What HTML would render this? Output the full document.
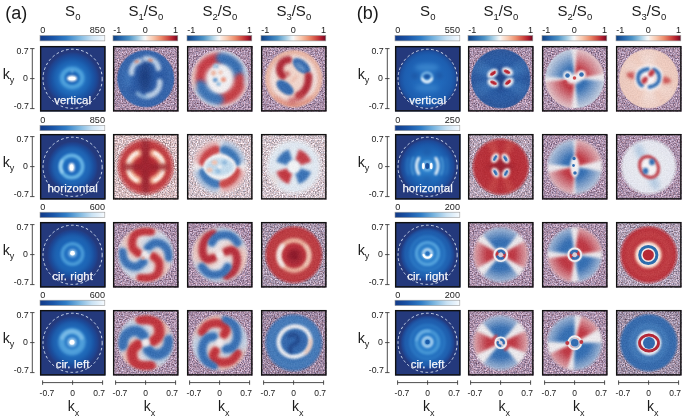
<!DOCTYPE html><html><head><meta charset="utf-8"><style>html,body{margin:0;padding:0;background:#fff;width:685px;height:420px;overflow:hidden}svg{display:block;will-change:transform}</style></head><body>
<svg xmlns="http://www.w3.org/2000/svg" width="685" height="420" viewBox="0 0 685 420"><defs><linearGradient id="gRB" x1="0" y1="0" x2="1" y2="0"><stop offset="0.000" stop-color="#0e3f80"/><stop offset="0.120" stop-color="#2566ad"/><stop offset="0.250" stop-color="#4b92c6"/><stop offset="0.380" stop-color="#a2cce4"/><stop offset="0.470" stop-color="#e9f1f6"/><stop offset="0.500" stop-color="#f7f7f7"/><stop offset="0.530" stop-color="#fbe9df"/><stop offset="0.620" stop-color="#f8c7ad"/><stop offset="0.740" stop-color="#ec8c6c"/><stop offset="0.850" stop-color="#cf4a42"/><stop offset="0.930" stop-color="#b01b2e"/><stop offset="1.000" stop-color="#6a0a22"/></linearGradient><linearGradient id="gBL" x1="0" y1="0" x2="1" y2="0"><stop offset="0.000" stop-color="#123a88"/><stop offset="0.200" stop-color="#1a55a8"/><stop offset="0.400" stop-color="#2f7cc6"/><stop offset="0.600" stop-color="#78b4df"/><stop offset="0.800" stop-color="#c9e2f4"/><stop offset="1.000" stop-color="#f7fbff"/></linearGradient><radialGradient id="rg1" gradientUnits="userSpaceOnUse" cx="32.75" cy="32.75" r="27.00"><stop offset="0.000" stop-color="#2878c6" stop-opacity="1.00"/><stop offset="0.350" stop-color="#2070c0" stop-opacity="1.00"/><stop offset="0.600" stop-color="#1a60b2" stop-opacity="1.00"/><stop offset="0.780" stop-color="#1a52a2" stop-opacity="1.00"/><stop offset="0.900" stop-color="#1e4592" stop-opacity="1.00"/><stop offset="1.000" stop-color="#24397c" stop-opacity="1.00"/></radialGradient><filter id="n0" x="0" y="0" width="100%" height="100%" color-interpolation-filters="sRGB"><feTurbulence type="fractalNoise" baseFrequency="0.75" numOctaves="2" seed="10"/><feColorMatrix type="matrix" values="0.850 0.126 0.000 0.000 0.179 0.850 -0.036 0.000 0.000 0.158 0.850 -0.126 0.000 0.000 0.305 0.000 0.000 0.000 0.000 1.000"/></filter><clipPath id="dp001"><circle cx="32.75" cy="32.75" r="29.00"/></clipPath><radialGradient id="rg3" gradientUnits="userSpaceOnUse" cx="32.75" cy="32.75" r="30.50"><stop offset="0.000" stop-color="#fff" stop-opacity="0.07"/><stop offset="0.885" stop-color="#fff" stop-opacity="0.14"/><stop offset="1.000" stop-color="#fff" stop-opacity="1.00"/></radialGradient><mask id="m2"><rect width="66" height="66" fill="url(#rg3)"/></mask><filter id="n1" x="0" y="0" width="100%" height="100%" color-interpolation-filters="sRGB"><feTurbulence type="fractalNoise" baseFrequency="0.75" numOctaves="2" seed="17"/><feColorMatrix type="matrix" values="0.850 0.126 0.000 0.000 0.179 0.850 -0.036 0.000 0.000 0.158 0.850 -0.126 0.000 0.000 0.305 0.000 0.000 0.000 0.000 1.000"/></filter><clipPath id="dp002"><circle cx="32.75" cy="32.75" r="29.50"/></clipPath><radialGradient id="rg5" gradientUnits="userSpaceOnUse" cx="32.75" cy="32.75" r="30.50"><stop offset="0.000" stop-color="#fff" stop-opacity="0.07"/><stop offset="0.885" stop-color="#fff" stop-opacity="0.14"/><stop offset="1.000" stop-color="#fff" stop-opacity="1.00"/></radialGradient><mask id="m4"><rect width="66" height="66" fill="url(#rg5)"/></mask><filter id="n2" x="0" y="0" width="100%" height="100%" color-interpolation-filters="sRGB"><feTurbulence type="fractalNoise" baseFrequency="0.75" numOctaves="2" seed="24"/><feColorMatrix type="matrix" values="0.850 0.126 0.000 0.000 0.179 0.850 -0.036 0.000 0.000 0.158 0.850 -0.126 0.000 0.000 0.305 0.000 0.000 0.000 0.000 1.000"/></filter><clipPath id="dp003"><circle cx="32.75" cy="32.75" r="29.50"/></clipPath><radialGradient id="rg7" gradientUnits="userSpaceOnUse" cx="32.75" cy="32.75" r="30.50"><stop offset="0.000" stop-color="#fff" stop-opacity="0.07"/><stop offset="0.885" stop-color="#fff" stop-opacity="0.14"/><stop offset="1.000" stop-color="#fff" stop-opacity="1.00"/></radialGradient><mask id="m6"><rect width="66" height="66" fill="url(#rg7)"/></mask><radialGradient id="rg8" gradientUnits="userSpaceOnUse" cx="32.75" cy="32.75" r="25.50"><stop offset="0.000" stop-color="#2878c6" stop-opacity="1.00"/><stop offset="0.350" stop-color="#2070c0" stop-opacity="1.00"/><stop offset="0.600" stop-color="#1a60b2" stop-opacity="1.00"/><stop offset="0.780" stop-color="#1a52a2" stop-opacity="1.00"/><stop offset="0.900" stop-color="#1e4592" stop-opacity="1.00"/><stop offset="1.000" stop-color="#24397c" stop-opacity="1.00"/></radialGradient><filter id="n3" x="0" y="0" width="100%" height="100%" color-interpolation-filters="sRGB"><feTurbulence type="fractalNoise" baseFrequency="0.75" numOctaves="2" seed="38"/><feColorMatrix type="matrix" values="0.850 0.126 0.000 0.000 0.343 0.850 -0.036 0.000 0.000 0.330 0.850 -0.126 0.000 0.000 0.391 0.000 0.000 0.000 0.000 1.000"/></filter><clipPath id="dp011"><circle cx="32.75" cy="32.75" r="29.00"/></clipPath><radialGradient id="rg10" gradientUnits="userSpaceOnUse" cx="32.75" cy="32.75" r="30.50"><stop offset="0.000" stop-color="#fff" stop-opacity="0.07"/><stop offset="0.803" stop-color="#fff" stop-opacity="0.14"/><stop offset="1.000" stop-color="#fff" stop-opacity="1.00"/></radialGradient><mask id="m9"><rect width="66" height="66" fill="url(#rg10)"/></mask><filter id="n4" x="0" y="0" width="100%" height="100%" color-interpolation-filters="sRGB"><feTurbulence type="fractalNoise" baseFrequency="0.75" numOctaves="2" seed="45"/><feColorMatrix type="matrix" values="0.850 0.126 0.000 0.000 0.328 0.850 -0.036 0.000 0.000 0.346 0.850 -0.126 0.000 0.000 0.422 0.000 0.000 0.000 0.000 1.000"/></filter><clipPath id="dp012"><circle cx="32.75" cy="32.75" r="29.00"/></clipPath><radialGradient id="rg12" gradientUnits="userSpaceOnUse" cx="32.75" cy="32.75" r="30.00"><stop offset="0.000" stop-color="#fff" stop-opacity="0.07"/><stop offset="0.800" stop-color="#fff" stop-opacity="0.14"/><stop offset="1.000" stop-color="#fff" stop-opacity="1.00"/></radialGradient><mask id="m11"><rect width="66" height="66" fill="url(#rg12)"/></mask><filter id="n5" x="0" y="0" width="100%" height="100%" color-interpolation-filters="sRGB"><feTurbulence type="fractalNoise" baseFrequency="0.75" numOctaves="2" seed="52"/><feColorMatrix type="matrix" values="0.850 0.126 0.000 0.000 0.328 0.850 -0.036 0.000 0.000 0.354 0.850 -0.126 0.000 0.000 0.430 0.000 0.000 0.000 0.000 1.000"/></filter><clipPath id="dp013"><circle cx="32.75" cy="32.75" r="29.00"/></clipPath><radialGradient id="rg14" gradientUnits="userSpaceOnUse" cx="32.75" cy="32.75" r="30.00"><stop offset="0.000" stop-color="#fff" stop-opacity="0.07"/><stop offset="0.783" stop-color="#fff" stop-opacity="0.14"/><stop offset="1.000" stop-color="#fff" stop-opacity="1.00"/></radialGradient><mask id="m13"><rect width="66" height="66" fill="url(#rg14)"/></mask><radialGradient id="rg15" gradientUnits="userSpaceOnUse" cx="32.75" cy="32.75" r="26.00"><stop offset="0.000" stop-color="#2878c6" stop-opacity="1.00"/><stop offset="0.350" stop-color="#2070c0" stop-opacity="1.00"/><stop offset="0.600" stop-color="#1a60b2" stop-opacity="1.00"/><stop offset="0.780" stop-color="#1a52a2" stop-opacity="1.00"/><stop offset="0.900" stop-color="#1e4592" stop-opacity="1.00"/><stop offset="1.000" stop-color="#24397c" stop-opacity="1.00"/></radialGradient><filter id="n6" x="0" y="0" width="100%" height="100%" color-interpolation-filters="sRGB"><feTurbulence type="fractalNoise" baseFrequency="0.75" numOctaves="2" seed="66"/><feColorMatrix type="matrix" values="0.850 0.126 0.000 0.000 0.179 0.850 -0.036 0.000 0.000 0.158 0.850 -0.126 0.000 0.000 0.305 0.000 0.000 0.000 0.000 1.000"/></filter><clipPath id="dp021"><circle cx="32.75" cy="32.75" r="29.00"/></clipPath><radialGradient id="rg17" gradientUnits="userSpaceOnUse" cx="32.75" cy="32.75" r="30.00"><stop offset="0.000" stop-color="#fff" stop-opacity="0.07"/><stop offset="0.850" stop-color="#fff" stop-opacity="0.14"/><stop offset="1.000" stop-color="#fff" stop-opacity="1.00"/></radialGradient><mask id="m16"><rect width="66" height="66" fill="url(#rg17)"/></mask><filter id="n7" x="0" y="0" width="100%" height="100%" color-interpolation-filters="sRGB"><feTurbulence type="fractalNoise" baseFrequency="0.75" numOctaves="2" seed="73"/><feColorMatrix type="matrix" values="0.850 0.126 0.000 0.000 0.179 0.850 -0.036 0.000 0.000 0.158 0.850 -0.126 0.000 0.000 0.305 0.000 0.000 0.000 0.000 1.000"/></filter><clipPath id="dp022"><circle cx="32.75" cy="32.75" r="29.00"/></clipPath><radialGradient id="rg19" gradientUnits="userSpaceOnUse" cx="32.75" cy="32.75" r="30.00"><stop offset="0.000" stop-color="#fff" stop-opacity="0.07"/><stop offset="0.850" stop-color="#fff" stop-opacity="0.14"/><stop offset="1.000" stop-color="#fff" stop-opacity="1.00"/></radialGradient><mask id="m18"><rect width="66" height="66" fill="url(#rg19)"/></mask><filter id="n8" x="0" y="0" width="100%" height="100%" color-interpolation-filters="sRGB"><feTurbulence type="fractalNoise" baseFrequency="0.75" numOctaves="2" seed="80"/><feColorMatrix type="matrix" values="0.850 0.126 0.000 0.000 0.171 0.850 -0.036 0.000 0.000 0.181 0.850 -0.126 0.000 0.000 0.313 0.000 0.000 0.000 0.000 1.000"/></filter><clipPath id="dp023"><circle cx="32.75" cy="32.75" r="29.50"/></clipPath><radialGradient id="rg21" gradientUnits="userSpaceOnUse" cx="32.75" cy="32.75" r="30.50"><stop offset="0.000" stop-color="#fff" stop-opacity="0.07"/><stop offset="0.852" stop-color="#fff" stop-opacity="0.14"/><stop offset="1.000" stop-color="#fff" stop-opacity="1.00"/></radialGradient><mask id="m20"><rect width="66" height="66" fill="url(#rg21)"/></mask><radialGradient id="rg22" gradientUnits="userSpaceOnUse" cx="32.75" cy="32.75" r="27.00"><stop offset="0.000" stop-color="#2878c6" stop-opacity="1.00"/><stop offset="0.350" stop-color="#2070c0" stop-opacity="1.00"/><stop offset="0.600" stop-color="#1a60b2" stop-opacity="1.00"/><stop offset="0.780" stop-color="#1a52a2" stop-opacity="1.00"/><stop offset="0.900" stop-color="#1e4592" stop-opacity="1.00"/><stop offset="1.000" stop-color="#24397c" stop-opacity="1.00"/></radialGradient><filter id="n9" x="0" y="0" width="100%" height="100%" color-interpolation-filters="sRGB"><feTurbulence type="fractalNoise" baseFrequency="0.75" numOctaves="2" seed="94"/><feColorMatrix type="matrix" values="0.850 0.126 0.000 0.000 0.179 0.850 -0.036 0.000 0.000 0.158 0.850 -0.126 0.000 0.000 0.305 0.000 0.000 0.000 0.000 1.000"/></filter><clipPath id="dp031"><circle cx="32.75" cy="32.75" r="29.00"/></clipPath><radialGradient id="rg24" gradientUnits="userSpaceOnUse" cx="32.75" cy="32.75" r="30.00"><stop offset="0.000" stop-color="#fff" stop-opacity="0.07"/><stop offset="0.850" stop-color="#fff" stop-opacity="0.14"/><stop offset="1.000" stop-color="#fff" stop-opacity="1.00"/></radialGradient><mask id="m23"><rect width="66" height="66" fill="url(#rg24)"/></mask><filter id="n10" x="0" y="0" width="100%" height="100%" color-interpolation-filters="sRGB"><feTurbulence type="fractalNoise" baseFrequency="0.75" numOctaves="2" seed="101"/><feColorMatrix type="matrix" values="0.850 0.126 0.000 0.000 0.179 0.850 -0.036 0.000 0.000 0.158 0.850 -0.126 0.000 0.000 0.305 0.000 0.000 0.000 0.000 1.000"/></filter><clipPath id="dp032"><circle cx="32.75" cy="32.75" r="29.00"/></clipPath><radialGradient id="rg26" gradientUnits="userSpaceOnUse" cx="32.75" cy="32.75" r="30.00"><stop offset="0.000" stop-color="#fff" stop-opacity="0.07"/><stop offset="0.850" stop-color="#fff" stop-opacity="0.14"/><stop offset="1.000" stop-color="#fff" stop-opacity="1.00"/></radialGradient><mask id="m25"><rect width="66" height="66" fill="url(#rg26)"/></mask><filter id="n11" x="0" y="0" width="100%" height="100%" color-interpolation-filters="sRGB"><feTurbulence type="fractalNoise" baseFrequency="0.75" numOctaves="2" seed="108"/><feColorMatrix type="matrix" values="0.850 0.126 0.000 0.000 0.132 0.850 -0.036 0.000 0.000 0.126 0.850 -0.126 0.000 0.000 0.273 0.000 0.000 0.000 0.000 1.000"/></filter><clipPath id="dp033"><circle cx="32.75" cy="32.75" r="29.50"/></clipPath><radialGradient id="rg28" gradientUnits="userSpaceOnUse" cx="32.75" cy="32.75" r="30.50"><stop offset="0.000" stop-color="#fff" stop-opacity="0.07"/><stop offset="0.852" stop-color="#fff" stop-opacity="0.14"/><stop offset="1.000" stop-color="#fff" stop-opacity="1.00"/></radialGradient><mask id="m27"><rect width="66" height="66" fill="url(#rg28)"/></mask><radialGradient id="rg29" gradientUnits="userSpaceOnUse" cx="32.75" cy="32.75" r="29.50"><stop offset="0.000" stop-color="#2570c0" stop-opacity="1.00"/><stop offset="0.500" stop-color="#2168ba" stop-opacity="1.00"/><stop offset="0.800" stop-color="#1d5eb0" stop-opacity="1.00"/><stop offset="0.920" stop-color="#1c52a2" stop-opacity="1.00"/><stop offset="0.970" stop-color="#1f4690" stop-opacity="1.00"/><stop offset="1.000" stop-color="#24397c" stop-opacity="1.00"/></radialGradient><filter id="n12" x="0" y="0" width="100%" height="100%" color-interpolation-filters="sRGB"><feTurbulence type="fractalNoise" baseFrequency="0.75" numOctaves="2" seed="122"/><feColorMatrix type="matrix" values="0.850 0.126 0.000 0.000 0.179 0.850 -0.036 0.000 0.000 0.158 0.850 -0.126 0.000 0.000 0.305 0.000 0.000 0.000 0.000 1.000"/></filter><clipPath id="dp101"><circle cx="32.75" cy="32.75" r="30.00"/></clipPath><radialGradient id="rg30" gradientUnits="userSpaceOnUse" cx="32.75" cy="32.75" r="30.00"><stop offset="0.000" stop-color="#3a80c4" stop-opacity="0.60"/><stop offset="0.200" stop-color="#3a80c4" stop-opacity="1.00"/><stop offset="0.400" stop-color="#3a80c4" stop-opacity="1.00"/><stop offset="1.000" stop-color="#3a80c4" stop-opacity="0.40"/></radialGradient><radialGradient id="rg31" gradientUnits="userSpaceOnUse" cx="32.75" cy="32.75" r="30.00"><stop offset="0.000" stop-color="#3a80c4" stop-opacity="0.60"/><stop offset="0.200" stop-color="#3a80c4" stop-opacity="1.00"/><stop offset="0.400" stop-color="#3a80c4" stop-opacity="1.00"/><stop offset="1.000" stop-color="#3a80c4" stop-opacity="0.40"/></radialGradient><radialGradient id="rg32" gradientUnits="userSpaceOnUse" cx="32.75" cy="32.75" r="30.00"><stop offset="0.000" stop-color="#3a80c4" stop-opacity="0.60"/><stop offset="0.200" stop-color="#3a80c4" stop-opacity="1.00"/><stop offset="0.400" stop-color="#3a80c4" stop-opacity="1.00"/><stop offset="1.000" stop-color="#3a80c4" stop-opacity="0.40"/></radialGradient><radialGradient id="rg33" gradientUnits="userSpaceOnUse" cx="32.75" cy="32.75" r="30.00"><stop offset="0.000" stop-color="#3a80c4" stop-opacity="0.60"/><stop offset="0.200" stop-color="#3a80c4" stop-opacity="1.00"/><stop offset="0.400" stop-color="#3a80c4" stop-opacity="1.00"/><stop offset="1.000" stop-color="#3a80c4" stop-opacity="0.40"/></radialGradient><radialGradient id="rg35" gradientUnits="userSpaceOnUse" cx="32.75" cy="32.75" r="31.00"><stop offset="0.000" stop-color="#fff" stop-opacity="0.07"/><stop offset="0.919" stop-color="#fff" stop-opacity="0.14"/><stop offset="1.000" stop-color="#fff" stop-opacity="1.00"/></radialGradient><mask id="m34"><rect width="66" height="66" fill="url(#rg35)"/></mask><filter id="n13" x="0" y="0" width="100%" height="100%" color-interpolation-filters="sRGB"><feTurbulence type="fractalNoise" baseFrequency="0.75" numOctaves="2" seed="129"/><feColorMatrix type="matrix" values="0.850 0.126 0.000 0.000 0.179 0.850 -0.036 0.000 0.000 0.158 0.850 -0.126 0.000 0.000 0.305 0.000 0.000 0.000 0.000 1.000"/></filter><clipPath id="dp102"><circle cx="32.75" cy="32.75" r="30.00"/></clipPath><radialGradient id="rg36" gradientUnits="userSpaceOnUse" cx="32.75" cy="32.75" r="30.00"><stop offset="0.000" stop-color="#2a6cb3" stop-opacity="0.60"/><stop offset="0.100" stop-color="#2a6cb3" stop-opacity="1.00"/><stop offset="0.367" stop-color="#2a6cb3" stop-opacity="1.00"/><stop offset="1.000" stop-color="#2a6cb3" stop-opacity="0.18"/></radialGradient><radialGradient id="rg37" gradientUnits="userSpaceOnUse" cx="32.75" cy="32.75" r="30.00"><stop offset="0.000" stop-color="#c0303a" stop-opacity="0.60"/><stop offset="0.100" stop-color="#c0303a" stop-opacity="1.00"/><stop offset="0.367" stop-color="#c0303a" stop-opacity="1.00"/><stop offset="1.000" stop-color="#c0303a" stop-opacity="0.18"/></radialGradient><radialGradient id="rg38" gradientUnits="userSpaceOnUse" cx="32.75" cy="32.75" r="30.00"><stop offset="0.000" stop-color="#2a6cb3" stop-opacity="0.60"/><stop offset="0.100" stop-color="#2a6cb3" stop-opacity="1.00"/><stop offset="0.367" stop-color="#2a6cb3" stop-opacity="1.00"/><stop offset="1.000" stop-color="#2a6cb3" stop-opacity="0.18"/></radialGradient><radialGradient id="rg39" gradientUnits="userSpaceOnUse" cx="32.75" cy="32.75" r="30.00"><stop offset="0.000" stop-color="#c0303a" stop-opacity="0.60"/><stop offset="0.100" stop-color="#c0303a" stop-opacity="1.00"/><stop offset="0.367" stop-color="#c0303a" stop-opacity="1.00"/><stop offset="1.000" stop-color="#c0303a" stop-opacity="0.18"/></radialGradient><radialGradient id="rg41" gradientUnits="userSpaceOnUse" cx="32.75" cy="32.75" r="31.00"><stop offset="0.000" stop-color="#fff" stop-opacity="0.07"/><stop offset="0.919" stop-color="#fff" stop-opacity="0.14"/><stop offset="1.000" stop-color="#fff" stop-opacity="1.00"/></radialGradient><mask id="m40"><rect width="66" height="66" fill="url(#rg41)"/></mask><filter id="n14" x="0" y="0" width="100%" height="100%" color-interpolation-filters="sRGB"><feTurbulence type="fractalNoise" baseFrequency="0.75" numOctaves="2" seed="136"/><feColorMatrix type="matrix" values="0.850 0.126 0.000 0.000 0.179 0.850 -0.036 0.000 0.000 0.158 0.850 -0.126 0.000 0.000 0.305 0.000 0.000 0.000 0.000 1.000"/></filter><clipPath id="dp103"><circle cx="32.75" cy="32.75" r="30.00"/></clipPath><radialGradient id="rg42" gradientUnits="userSpaceOnUse" cx="32.75" cy="32.75" r="30.00"><stop offset="0.000" stop-color="#fcf2ec" stop-opacity="0.60"/><stop offset="0.133" stop-color="#fcf2ec" stop-opacity="1.00"/><stop offset="0.467" stop-color="#fcf2ec" stop-opacity="1.00"/><stop offset="1.000" stop-color="#fcf2ec" stop-opacity="0.30"/></radialGradient><radialGradient id="rg43" gradientUnits="userSpaceOnUse" cx="32.75" cy="32.75" r="30.00"><stop offset="0.000" stop-color="#fcf2ec" stop-opacity="0.60"/><stop offset="0.133" stop-color="#fcf2ec" stop-opacity="1.00"/><stop offset="0.467" stop-color="#fcf2ec" stop-opacity="1.00"/><stop offset="1.000" stop-color="#fcf2ec" stop-opacity="0.30"/></radialGradient><radialGradient id="rg44" gradientUnits="userSpaceOnUse" cx="32.75" cy="32.75" r="30.00"><stop offset="0.000" stop-color="#fcf2ec" stop-opacity="0.60"/><stop offset="0.133" stop-color="#fcf2ec" stop-opacity="1.00"/><stop offset="0.467" stop-color="#fcf2ec" stop-opacity="1.00"/><stop offset="1.000" stop-color="#fcf2ec" stop-opacity="0.30"/></radialGradient><radialGradient id="rg45" gradientUnits="userSpaceOnUse" cx="32.75" cy="32.75" r="30.00"><stop offset="0.000" stop-color="#fcf2ec" stop-opacity="0.60"/><stop offset="0.133" stop-color="#fcf2ec" stop-opacity="1.00"/><stop offset="0.467" stop-color="#fcf2ec" stop-opacity="1.00"/><stop offset="1.000" stop-color="#fcf2ec" stop-opacity="0.30"/></radialGradient><radialGradient id="rg47" gradientUnits="userSpaceOnUse" cx="32.75" cy="32.75" r="31.00"><stop offset="0.000" stop-color="#fff" stop-opacity="0.07"/><stop offset="0.919" stop-color="#fff" stop-opacity="0.14"/><stop offset="1.000" stop-color="#fff" stop-opacity="1.00"/></radialGradient><mask id="m46"><rect width="66" height="66" fill="url(#rg47)"/></mask><radialGradient id="rg48" gradientUnits="userSpaceOnUse" cx="32.75" cy="32.75" r="28.00"><stop offset="0.000" stop-color="#3a90d8" stop-opacity="1.00"/><stop offset="0.300" stop-color="#2a7cc8" stop-opacity="1.00"/><stop offset="0.600" stop-color="#1f68b8" stop-opacity="1.00"/><stop offset="0.820" stop-color="#1b55a6" stop-opacity="1.00"/><stop offset="0.930" stop-color="#1e4896" stop-opacity="1.00"/><stop offset="1.000" stop-color="#24397c" stop-opacity="1.00"/></radialGradient><filter id="n15" x="0" y="0" width="100%" height="100%" color-interpolation-filters="sRGB"><feTurbulence type="fractalNoise" baseFrequency="0.75" numOctaves="2" seed="150"/><feColorMatrix type="matrix" values="0.850 0.126 0.000 0.000 0.218 0.850 -0.036 0.000 0.000 0.228 0.850 -0.126 0.000 0.000 0.344 0.000 0.000 0.000 0.000 1.000"/></filter><clipPath id="dp111"><circle cx="32.75" cy="32.75" r="29.00"/></clipPath><radialGradient id="rg49" gradientUnits="userSpaceOnUse" cx="32.75" cy="32.75" r="30.00"><stop offset="0.000" stop-color="#d4544a" stop-opacity="0.60"/><stop offset="0.200" stop-color="#d4544a" stop-opacity="1.00"/><stop offset="0.433" stop-color="#d4544a" stop-opacity="1.00"/><stop offset="1.000" stop-color="#d4544a" stop-opacity="0.50"/></radialGradient><radialGradient id="rg50" gradientUnits="userSpaceOnUse" cx="32.75" cy="32.75" r="30.00"><stop offset="0.000" stop-color="#d4544a" stop-opacity="0.60"/><stop offset="0.200" stop-color="#d4544a" stop-opacity="1.00"/><stop offset="0.433" stop-color="#d4544a" stop-opacity="1.00"/><stop offset="1.000" stop-color="#d4544a" stop-opacity="0.50"/></radialGradient><radialGradient id="rg51" gradientUnits="userSpaceOnUse" cx="32.75" cy="32.75" r="30.00"><stop offset="0.000" stop-color="#d4544a" stop-opacity="0.60"/><stop offset="0.200" stop-color="#d4544a" stop-opacity="1.00"/><stop offset="0.433" stop-color="#d4544a" stop-opacity="1.00"/><stop offset="1.000" stop-color="#d4544a" stop-opacity="0.50"/></radialGradient><radialGradient id="rg52" gradientUnits="userSpaceOnUse" cx="32.75" cy="32.75" r="30.00"><stop offset="0.000" stop-color="#d4544a" stop-opacity="0.60"/><stop offset="0.200" stop-color="#d4544a" stop-opacity="1.00"/><stop offset="0.433" stop-color="#d4544a" stop-opacity="1.00"/><stop offset="1.000" stop-color="#d4544a" stop-opacity="0.50"/></radialGradient><radialGradient id="rg54" gradientUnits="userSpaceOnUse" cx="32.75" cy="32.75" r="30.50"><stop offset="0.000" stop-color="#fff" stop-opacity="0.07"/><stop offset="0.836" stop-color="#fff" stop-opacity="0.14"/><stop offset="1.000" stop-color="#fff" stop-opacity="1.00"/></radialGradient><mask id="m53"><rect width="66" height="66" fill="url(#rg54)"/></mask><filter id="n16" x="0" y="0" width="100%" height="100%" color-interpolation-filters="sRGB"><feTurbulence type="fractalNoise" baseFrequency="0.75" numOctaves="2" seed="157"/><feColorMatrix type="matrix" values="0.850 0.126 0.000 0.000 0.179 0.850 -0.036 0.000 0.000 0.158 0.850 -0.126 0.000 0.000 0.305 0.000 0.000 0.000 0.000 1.000"/></filter><clipPath id="dp112"><circle cx="32.75" cy="32.75" r="28.50"/></clipPath><radialGradient id="rg55" gradientUnits="userSpaceOnUse" cx="32.75" cy="32.75" r="29.00"><stop offset="0.000" stop-color="#2a6cb3" stop-opacity="0.60"/><stop offset="0.103" stop-color="#2a6cb3" stop-opacity="1.00"/><stop offset="0.379" stop-color="#2a6cb3" stop-opacity="1.00"/><stop offset="1.000" stop-color="#2a6cb3" stop-opacity="0.20"/></radialGradient><radialGradient id="rg56" gradientUnits="userSpaceOnUse" cx="32.75" cy="32.75" r="29.00"><stop offset="0.000" stop-color="#c0303a" stop-opacity="0.60"/><stop offset="0.103" stop-color="#c0303a" stop-opacity="1.00"/><stop offset="0.379" stop-color="#c0303a" stop-opacity="1.00"/><stop offset="1.000" stop-color="#c0303a" stop-opacity="0.20"/></radialGradient><radialGradient id="rg57" gradientUnits="userSpaceOnUse" cx="32.75" cy="32.75" r="29.00"><stop offset="0.000" stop-color="#2a6cb3" stop-opacity="0.60"/><stop offset="0.103" stop-color="#2a6cb3" stop-opacity="1.00"/><stop offset="0.379" stop-color="#2a6cb3" stop-opacity="1.00"/><stop offset="1.000" stop-color="#2a6cb3" stop-opacity="0.20"/></radialGradient><radialGradient id="rg58" gradientUnits="userSpaceOnUse" cx="32.75" cy="32.75" r="29.00"><stop offset="0.000" stop-color="#c0303a" stop-opacity="0.60"/><stop offset="0.103" stop-color="#c0303a" stop-opacity="1.00"/><stop offset="0.379" stop-color="#c0303a" stop-opacity="1.00"/><stop offset="1.000" stop-color="#c0303a" stop-opacity="0.20"/></radialGradient><radialGradient id="rg60" gradientUnits="userSpaceOnUse" cx="32.75" cy="32.75" r="30.00"><stop offset="0.000" stop-color="#fff" stop-opacity="0.07"/><stop offset="0.833" stop-color="#fff" stop-opacity="0.14"/><stop offset="1.000" stop-color="#fff" stop-opacity="1.00"/></radialGradient><mask id="m59"><rect width="66" height="66" fill="url(#rg60)"/></mask><filter id="n17" x="0" y="0" width="100%" height="100%" color-interpolation-filters="sRGB"><feTurbulence type="fractalNoise" baseFrequency="0.75" numOctaves="2" seed="164"/><feColorMatrix type="matrix" values="0.850 0.126 0.000 0.000 0.179 0.850 -0.036 0.000 0.000 0.158 0.850 -0.126 0.000 0.000 0.305 0.000 0.000 0.000 0.000 1.000"/></filter><clipPath id="dp113"><circle cx="32.75" cy="32.75" r="28.50"/></clipPath><radialGradient id="rg62" gradientUnits="userSpaceOnUse" cx="32.75" cy="32.75" r="30.00"><stop offset="0.000" stop-color="#fff" stop-opacity="0.07"/><stop offset="0.833" stop-color="#fff" stop-opacity="0.14"/><stop offset="1.000" stop-color="#fff" stop-opacity="1.00"/></radialGradient><mask id="m61"><rect width="66" height="66" fill="url(#rg62)"/></mask><radialGradient id="rg63" gradientUnits="userSpaceOnUse" cx="32.75" cy="32.75" r="27.50"><stop offset="0.000" stop-color="#3a90d8" stop-opacity="1.00"/><stop offset="0.300" stop-color="#2a7cc8" stop-opacity="1.00"/><stop offset="0.600" stop-color="#1f68b8" stop-opacity="1.00"/><stop offset="0.820" stop-color="#1b55a6" stop-opacity="1.00"/><stop offset="0.930" stop-color="#1e4896" stop-opacity="1.00"/><stop offset="1.000" stop-color="#24397c" stop-opacity="1.00"/></radialGradient><filter id="n18" x="0" y="0" width="100%" height="100%" color-interpolation-filters="sRGB"><feTurbulence type="fractalNoise" baseFrequency="0.75" numOctaves="2" seed="178"/><feColorMatrix type="matrix" values="0.850 0.126 0.000 0.000 0.179 0.850 -0.036 0.000 0.000 0.158 0.850 -0.126 0.000 0.000 0.305 0.000 0.000 0.000 0.000 1.000"/></filter><clipPath id="dp121"><circle cx="32.75" cy="32.75" r="28.50"/></clipPath><radialGradient id="rg64" gradientUnits="userSpaceOnUse" cx="32.75" cy="32.75" r="29.00"><stop offset="0.000" stop-color="#2a6cb3" stop-opacity="0.60"/><stop offset="0.172" stop-color="#2a6cb3" stop-opacity="1.00"/><stop offset="0.517" stop-color="#2a6cb3" stop-opacity="1.00"/><stop offset="1.000" stop-color="#2a6cb3" stop-opacity="0.30"/></radialGradient><radialGradient id="rg65" gradientUnits="userSpaceOnUse" cx="32.75" cy="32.75" r="29.00"><stop offset="0.000" stop-color="#2a6cb3" stop-opacity="0.60"/><stop offset="0.172" stop-color="#2a6cb3" stop-opacity="1.00"/><stop offset="0.517" stop-color="#2a6cb3" stop-opacity="1.00"/><stop offset="1.000" stop-color="#2a6cb3" stop-opacity="0.30"/></radialGradient><radialGradient id="rg66" gradientUnits="userSpaceOnUse" cx="32.75" cy="32.75" r="29.00"><stop offset="0.000" stop-color="#c0303a" stop-opacity="0.60"/><stop offset="0.172" stop-color="#c0303a" stop-opacity="1.00"/><stop offset="0.483" stop-color="#c0303a" stop-opacity="1.00"/><stop offset="1.000" stop-color="#c0303a" stop-opacity="0.28"/></radialGradient><radialGradient id="rg67" gradientUnits="userSpaceOnUse" cx="32.75" cy="32.75" r="29.00"><stop offset="0.000" stop-color="#c0303a" stop-opacity="0.60"/><stop offset="0.172" stop-color="#c0303a" stop-opacity="1.00"/><stop offset="0.483" stop-color="#c0303a" stop-opacity="1.00"/><stop offset="1.000" stop-color="#c0303a" stop-opacity="0.28"/></radialGradient><radialGradient id="rg69" gradientUnits="userSpaceOnUse" cx="32.75" cy="32.75" r="30.00"><stop offset="0.000" stop-color="#fff" stop-opacity="0.07"/><stop offset="0.833" stop-color="#fff" stop-opacity="0.14"/><stop offset="1.000" stop-color="#fff" stop-opacity="1.00"/></radialGradient><mask id="m68"><rect width="66" height="66" fill="url(#rg69)"/></mask><filter id="n19" x="0" y="0" width="100%" height="100%" color-interpolation-filters="sRGB"><feTurbulence type="fractalNoise" baseFrequency="0.75" numOctaves="2" seed="185"/><feColorMatrix type="matrix" values="0.850 0.126 0.000 0.000 0.179 0.850 -0.036 0.000 0.000 0.158 0.850 -0.126 0.000 0.000 0.305 0.000 0.000 0.000 0.000 1.000"/></filter><clipPath id="dp122"><circle cx="32.75" cy="32.75" r="28.50"/></clipPath><radialGradient id="rg70" gradientUnits="userSpaceOnUse" cx="32.75" cy="32.75" r="29.00"><stop offset="0.000" stop-color="#2a6cb3" stop-opacity="0.60"/><stop offset="0.172" stop-color="#2a6cb3" stop-opacity="1.00"/><stop offset="0.517" stop-color="#2a6cb3" stop-opacity="1.00"/><stop offset="1.000" stop-color="#2a6cb3" stop-opacity="0.30"/></radialGradient><radialGradient id="rg71" gradientUnits="userSpaceOnUse" cx="32.75" cy="32.75" r="29.00"><stop offset="0.000" stop-color="#c0303a" stop-opacity="0.60"/><stop offset="0.172" stop-color="#c0303a" stop-opacity="1.00"/><stop offset="0.517" stop-color="#c0303a" stop-opacity="1.00"/><stop offset="1.000" stop-color="#c0303a" stop-opacity="0.30"/></radialGradient><radialGradient id="rg72" gradientUnits="userSpaceOnUse" cx="32.75" cy="32.75" r="29.00"><stop offset="0.000" stop-color="#c0303a" stop-opacity="0.60"/><stop offset="0.172" stop-color="#c0303a" stop-opacity="1.00"/><stop offset="0.517" stop-color="#c0303a" stop-opacity="1.00"/><stop offset="1.000" stop-color="#c0303a" stop-opacity="0.30"/></radialGradient><radialGradient id="rg73" gradientUnits="userSpaceOnUse" cx="32.75" cy="32.75" r="29.00"><stop offset="0.000" stop-color="#2a6cb3" stop-opacity="0.60"/><stop offset="0.172" stop-color="#2a6cb3" stop-opacity="1.00"/><stop offset="0.517" stop-color="#2a6cb3" stop-opacity="1.00"/><stop offset="1.000" stop-color="#2a6cb3" stop-opacity="0.30"/></radialGradient><radialGradient id="rg75" gradientUnits="userSpaceOnUse" cx="32.75" cy="32.75" r="30.00"><stop offset="0.000" stop-color="#fff" stop-opacity="0.07"/><stop offset="0.833" stop-color="#fff" stop-opacity="0.14"/><stop offset="1.000" stop-color="#fff" stop-opacity="1.00"/></radialGradient><mask id="m74"><rect width="66" height="66" fill="url(#rg75)"/></mask><filter id="n20" x="0" y="0" width="100%" height="100%" color-interpolation-filters="sRGB"><feTurbulence type="fractalNoise" baseFrequency="0.75" numOctaves="2" seed="192"/><feColorMatrix type="matrix" values="0.850 0.126 0.000 0.000 0.202 0.850 -0.036 0.000 0.000 0.220 0.850 -0.126 0.000 0.000 0.344 0.000 0.000 0.000 0.000 1.000"/></filter><clipPath id="dp123"><circle cx="32.75" cy="32.75" r="29.50"/></clipPath><radialGradient id="rg77" gradientUnits="userSpaceOnUse" cx="32.75" cy="32.75" r="30.50"><stop offset="0.000" stop-color="#fff" stop-opacity="0.07"/><stop offset="0.852" stop-color="#fff" stop-opacity="0.14"/><stop offset="1.000" stop-color="#fff" stop-opacity="1.00"/></radialGradient><mask id="m76"><rect width="66" height="66" fill="url(#rg77)"/></mask><radialGradient id="rg78" gradientUnits="userSpaceOnUse" cx="32.75" cy="32.75" r="27.50"><stop offset="0.000" stop-color="#3a90d8" stop-opacity="1.00"/><stop offset="0.300" stop-color="#2a7cc8" stop-opacity="1.00"/><stop offset="0.600" stop-color="#1f68b8" stop-opacity="1.00"/><stop offset="0.820" stop-color="#1b55a6" stop-opacity="1.00"/><stop offset="0.930" stop-color="#1e4896" stop-opacity="1.00"/><stop offset="1.000" stop-color="#24397c" stop-opacity="1.00"/></radialGradient><filter id="n21" x="0" y="0" width="100%" height="100%" color-interpolation-filters="sRGB"><feTurbulence type="fractalNoise" baseFrequency="0.75" numOctaves="2" seed="206"/><feColorMatrix type="matrix" values="0.850 0.126 0.000 0.000 0.179 0.850 -0.036 0.000 0.000 0.158 0.850 -0.126 0.000 0.000 0.305 0.000 0.000 0.000 0.000 1.000"/></filter><clipPath id="dp131"><circle cx="32.75" cy="32.75" r="28.50"/></clipPath><radialGradient id="rg79" gradientUnits="userSpaceOnUse" cx="32.75" cy="32.75" r="29.00"><stop offset="0.000" stop-color="#2a6cb3" stop-opacity="0.60"/><stop offset="0.172" stop-color="#2a6cb3" stop-opacity="1.00"/><stop offset="0.517" stop-color="#2a6cb3" stop-opacity="1.00"/><stop offset="1.000" stop-color="#2a6cb3" stop-opacity="0.30"/></radialGradient><radialGradient id="rg80" gradientUnits="userSpaceOnUse" cx="32.75" cy="32.75" r="29.00"><stop offset="0.000" stop-color="#2a6cb3" stop-opacity="0.60"/><stop offset="0.172" stop-color="#2a6cb3" stop-opacity="1.00"/><stop offset="0.517" stop-color="#2a6cb3" stop-opacity="1.00"/><stop offset="1.000" stop-color="#2a6cb3" stop-opacity="0.30"/></radialGradient><radialGradient id="rg81" gradientUnits="userSpaceOnUse" cx="32.75" cy="32.75" r="29.00"><stop offset="0.000" stop-color="#c0303a" stop-opacity="0.60"/><stop offset="0.207" stop-color="#c0303a" stop-opacity="1.00"/><stop offset="0.483" stop-color="#c0303a" stop-opacity="1.00"/><stop offset="1.000" stop-color="#c0303a" stop-opacity="0.28"/></radialGradient><radialGradient id="rg82" gradientUnits="userSpaceOnUse" cx="32.75" cy="32.75" r="29.00"><stop offset="0.000" stop-color="#c0303a" stop-opacity="0.60"/><stop offset="0.207" stop-color="#c0303a" stop-opacity="1.00"/><stop offset="0.483" stop-color="#c0303a" stop-opacity="1.00"/><stop offset="1.000" stop-color="#c0303a" stop-opacity="0.28"/></radialGradient><radialGradient id="rg84" gradientUnits="userSpaceOnUse" cx="32.75" cy="32.75" r="30.00"><stop offset="0.000" stop-color="#fff" stop-opacity="0.07"/><stop offset="0.833" stop-color="#fff" stop-opacity="0.14"/><stop offset="1.000" stop-color="#fff" stop-opacity="1.00"/></radialGradient><mask id="m83"><rect width="66" height="66" fill="url(#rg84)"/></mask><filter id="n22" x="0" y="0" width="100%" height="100%" color-interpolation-filters="sRGB"><feTurbulence type="fractalNoise" baseFrequency="0.75" numOctaves="2" seed="213"/><feColorMatrix type="matrix" values="0.850 0.126 0.000 0.000 0.179 0.850 -0.036 0.000 0.000 0.158 0.850 -0.126 0.000 0.000 0.305 0.000 0.000 0.000 0.000 1.000"/></filter><clipPath id="dp132"><circle cx="32.75" cy="32.75" r="28.50"/></clipPath><radialGradient id="rg85" gradientUnits="userSpaceOnUse" cx="32.75" cy="32.75" r="29.00"><stop offset="0.000" stop-color="#2a6cb3" stop-opacity="0.60"/><stop offset="0.172" stop-color="#2a6cb3" stop-opacity="1.00"/><stop offset="0.517" stop-color="#2a6cb3" stop-opacity="1.00"/><stop offset="1.000" stop-color="#2a6cb3" stop-opacity="0.32"/></radialGradient><radialGradient id="rg86" gradientUnits="userSpaceOnUse" cx="32.75" cy="32.75" r="29.00"><stop offset="0.000" stop-color="#c0303a" stop-opacity="0.60"/><stop offset="0.207" stop-color="#c0303a" stop-opacity="1.00"/><stop offset="0.483" stop-color="#c0303a" stop-opacity="1.00"/><stop offset="1.000" stop-color="#c0303a" stop-opacity="0.30"/></radialGradient><radialGradient id="rg87" gradientUnits="userSpaceOnUse" cx="32.75" cy="32.75" r="29.00"><stop offset="0.000" stop-color="#2a6cb3" stop-opacity="0.60"/><stop offset="0.172" stop-color="#2a6cb3" stop-opacity="1.00"/><stop offset="0.517" stop-color="#2a6cb3" stop-opacity="1.00"/><stop offset="1.000" stop-color="#2a6cb3" stop-opacity="0.32"/></radialGradient><radialGradient id="rg88" gradientUnits="userSpaceOnUse" cx="32.75" cy="32.75" r="29.00"><stop offset="0.000" stop-color="#c0303a" stop-opacity="0.60"/><stop offset="0.207" stop-color="#c0303a" stop-opacity="1.00"/><stop offset="0.483" stop-color="#c0303a" stop-opacity="1.00"/><stop offset="1.000" stop-color="#c0303a" stop-opacity="0.30"/></radialGradient><radialGradient id="rg90" gradientUnits="userSpaceOnUse" cx="32.75" cy="32.75" r="30.00"><stop offset="0.000" stop-color="#fff" stop-opacity="0.07"/><stop offset="0.833" stop-color="#fff" stop-opacity="0.14"/><stop offset="1.000" stop-color="#fff" stop-opacity="1.00"/></radialGradient><mask id="m89"><rect width="66" height="66" fill="url(#rg90)"/></mask><filter id="n23" x="0" y="0" width="100%" height="100%" color-interpolation-filters="sRGB"><feTurbulence type="fractalNoise" baseFrequency="0.75" numOctaves="2" seed="220"/><feColorMatrix type="matrix" values="0.850 0.126 0.000 0.000 0.139 0.850 -0.036 0.000 0.000 0.158 0.850 -0.126 0.000 0.000 0.289 0.000 0.000 0.000 0.000 1.000"/></filter><clipPath id="dp133"><circle cx="32.75" cy="32.75" r="29.50"/></clipPath><radialGradient id="rg92" gradientUnits="userSpaceOnUse" cx="32.75" cy="32.75" r="30.50"><stop offset="0.000" stop-color="#fff" stop-opacity="0.07"/><stop offset="0.869" stop-color="#fff" stop-opacity="0.14"/><stop offset="1.000" stop-color="#fff" stop-opacity="1.00"/></radialGradient><mask id="m91"><rect width="66" height="66" fill="url(#rg92)"/></mask><filter id="b0_5" filterUnits="userSpaceOnUse" x="-20" y="-20" width="110" height="110" color-interpolation-filters="sRGB"><feGaussianBlur stdDeviation="0.5"/></filter><filter id="b0_6" filterUnits="userSpaceOnUse" x="-20" y="-20" width="110" height="110" color-interpolation-filters="sRGB"><feGaussianBlur stdDeviation="0.6"/></filter><filter id="b0_7" filterUnits="userSpaceOnUse" x="-20" y="-20" width="110" height="110" color-interpolation-filters="sRGB"><feGaussianBlur stdDeviation="0.7"/></filter><filter id="b0_8" filterUnits="userSpaceOnUse" x="-20" y="-20" width="110" height="110" color-interpolation-filters="sRGB"><feGaussianBlur stdDeviation="0.8"/></filter><filter id="b0_9" filterUnits="userSpaceOnUse" x="-20" y="-20" width="110" height="110" color-interpolation-filters="sRGB"><feGaussianBlur stdDeviation="0.9"/></filter><filter id="b1" filterUnits="userSpaceOnUse" x="-20" y="-20" width="110" height="110" color-interpolation-filters="sRGB"><feGaussianBlur stdDeviation="1"/></filter><filter id="b1_1" filterUnits="userSpaceOnUse" x="-20" y="-20" width="110" height="110" color-interpolation-filters="sRGB"><feGaussianBlur stdDeviation="1.1"/></filter><filter id="b1_2" filterUnits="userSpaceOnUse" x="-20" y="-20" width="110" height="110" color-interpolation-filters="sRGB"><feGaussianBlur stdDeviation="1.2"/></filter><filter id="b1_3" filterUnits="userSpaceOnUse" x="-20" y="-20" width="110" height="110" color-interpolation-filters="sRGB"><feGaussianBlur stdDeviation="1.3"/></filter><filter id="b1_4" filterUnits="userSpaceOnUse" x="-20" y="-20" width="110" height="110" color-interpolation-filters="sRGB"><feGaussianBlur stdDeviation="1.4"/></filter><filter id="b1_5" filterUnits="userSpaceOnUse" x="-20" y="-20" width="110" height="110" color-interpolation-filters="sRGB"><feGaussianBlur stdDeviation="1.5"/></filter><filter id="b1_6" filterUnits="userSpaceOnUse" x="-20" y="-20" width="110" height="110" color-interpolation-filters="sRGB"><feGaussianBlur stdDeviation="1.6"/></filter><filter id="b1_8" filterUnits="userSpaceOnUse" x="-20" y="-20" width="110" height="110" color-interpolation-filters="sRGB"><feGaussianBlur stdDeviation="1.8"/></filter><filter id="b2" filterUnits="userSpaceOnUse" x="-20" y="-20" width="110" height="110" color-interpolation-filters="sRGB"><feGaussianBlur stdDeviation="2"/></filter><filter id="b2_2" filterUnits="userSpaceOnUse" x="-20" y="-20" width="110" height="110" color-interpolation-filters="sRGB"><feGaussianBlur stdDeviation="2.2"/></filter><filter id="b2_4" filterUnits="userSpaceOnUse" x="-20" y="-20" width="110" height="110" color-interpolation-filters="sRGB"><feGaussianBlur stdDeviation="2.4"/></filter><filter id="b2_5" filterUnits="userSpaceOnUse" x="-20" y="-20" width="110" height="110" color-interpolation-filters="sRGB"><feGaussianBlur stdDeviation="2.5"/></filter><filter id="b3" filterUnits="userSpaceOnUse" x="-20" y="-20" width="110" height="110" color-interpolation-filters="sRGB"><feGaussianBlur stdDeviation="3"/></filter></defs><rect width="685" height="420" fill="#fff"/><text x="5.20" y="18.90" font-size="18" text-anchor="start" fill="#1a1a1a" font-family="Liberation Sans, sans-serif" >(a)</text><text x="356.80" y="18.90" font-size="18" text-anchor="start" fill="#1a1a1a" font-family="Liberation Sans, sans-serif" >(b)</text><text x="65.11" y="16" font-size="15" fill="#1a1a1a" font-family="Liberation Sans, sans-serif"><tspan>S</tspan><tspan font-size="9.5" dy="4.1">0</tspan></text><text x="128.38" y="16" font-size="15" fill="#1a1a1a" font-family="Liberation Sans, sans-serif"><tspan>S</tspan><tspan font-size="9.5" dy="4.1">1</tspan><tspan dy="-4.1">/S</tspan><tspan font-size="9.5" dy="4.1">0</tspan></text><text x="202.38" y="16" font-size="15" fill="#1a1a1a" font-family="Liberation Sans, sans-serif"><tspan>S</tspan><tspan font-size="9.5" dy="4.1">2</tspan><tspan dy="-4.1">/S</tspan><tspan font-size="9.5" dy="4.1">0</tspan></text><text x="276.38" y="16" font-size="15" fill="#1a1a1a" font-family="Liberation Sans, sans-serif"><tspan>S</tspan><tspan font-size="9.5" dy="4.1">3</tspan><tspan dy="-4.1">/S</tspan><tspan font-size="9.5" dy="4.1">0</tspan></text><text x="420.11" y="16" font-size="15" fill="#1a1a1a" font-family="Liberation Sans, sans-serif"><tspan>S</tspan><tspan font-size="9.5" dy="4.1">0</tspan></text><text x="483.38" y="16" font-size="15" fill="#1a1a1a" font-family="Liberation Sans, sans-serif"><tspan>S</tspan><tspan font-size="9.5" dy="4.1">1</tspan><tspan dy="-4.1">/S</tspan><tspan font-size="9.5" dy="4.1">0</tspan></text><text x="557.38" y="16" font-size="15" fill="#1a1a1a" font-family="Liberation Sans, sans-serif"><tspan>S</tspan><tspan font-size="9.5" dy="4.1">2</tspan><tspan dy="-4.1">/S</tspan><tspan font-size="9.5" dy="4.1">0</tspan></text><text x="631.38" y="16" font-size="15" fill="#1a1a1a" font-family="Liberation Sans, sans-serif"><tspan>S</tspan><tspan font-size="9.5" dy="4.1">3</tspan><tspan dy="-4.1">/S</tspan><tspan font-size="9.5" dy="4.1">0</tspan></text><rect x="40.00" y="35.50" width="64.80" height="5.40" fill="url(#gBL)" stroke="#9a9a9a" stroke-width="0.6"/><text x="40.20" y="32.80" font-size="9.1" text-anchor="start" fill="#1a1a1a" font-family="Liberation Sans, sans-serif" >0</text><text x="105.00" y="32.80" font-size="9.1" text-anchor="end" fill="#1a1a1a" font-family="Liberation Sans, sans-serif" >850</text><rect x="40.00" y="125.30" width="64.80" height="5.40" fill="url(#gBL)" stroke="#9a9a9a" stroke-width="0.6"/><text x="40.20" y="122.60" font-size="9.1" text-anchor="start" fill="#1a1a1a" font-family="Liberation Sans, sans-serif" >0</text><text x="105.00" y="122.60" font-size="9.1" text-anchor="end" fill="#1a1a1a" font-family="Liberation Sans, sans-serif" >850</text><rect x="40.00" y="212.20" width="64.80" height="5.40" fill="url(#gBL)" stroke="#9a9a9a" stroke-width="0.6"/><text x="40.20" y="209.50" font-size="9.1" text-anchor="start" fill="#1a1a1a" font-family="Liberation Sans, sans-serif" >0</text><text x="105.00" y="209.50" font-size="9.1" text-anchor="end" fill="#1a1a1a" font-family="Liberation Sans, sans-serif" >600</text><rect x="40.00" y="300.20" width="64.80" height="5.40" fill="url(#gBL)" stroke="#9a9a9a" stroke-width="0.6"/><text x="40.20" y="297.50" font-size="9.1" text-anchor="start" fill="#1a1a1a" font-family="Liberation Sans, sans-serif" >0</text><text x="105.00" y="297.50" font-size="9.1" text-anchor="end" fill="#1a1a1a" font-family="Liberation Sans, sans-serif" >600</text><rect x="113.00" y="35.50" width="64.80" height="5.40" fill="url(#gRB)" stroke="#9a9a9a" stroke-width="0.6"/><text x="113.20" y="32.80" font-size="9.1" text-anchor="start" fill="#1a1a1a" font-family="Liberation Sans, sans-serif" >-1</text><text x="178.00" y="32.80" font-size="9.1" text-anchor="end" fill="#1a1a1a" font-family="Liberation Sans, sans-serif" >1</text><text x="145.40" y="32.80" font-size="9.1" text-anchor="middle" fill="#1a1a1a" font-family="Liberation Sans, sans-serif" >0</text><rect x="187.00" y="35.50" width="64.80" height="5.40" fill="url(#gRB)" stroke="#9a9a9a" stroke-width="0.6"/><text x="187.20" y="32.80" font-size="9.1" text-anchor="start" fill="#1a1a1a" font-family="Liberation Sans, sans-serif" >-1</text><text x="252.00" y="32.80" font-size="9.1" text-anchor="end" fill="#1a1a1a" font-family="Liberation Sans, sans-serif" >1</text><text x="219.40" y="32.80" font-size="9.1" text-anchor="middle" fill="#1a1a1a" font-family="Liberation Sans, sans-serif" >0</text><rect x="261.00" y="35.50" width="64.80" height="5.40" fill="url(#gRB)" stroke="#9a9a9a" stroke-width="0.6"/><text x="261.20" y="32.80" font-size="9.1" text-anchor="start" fill="#1a1a1a" font-family="Liberation Sans, sans-serif" >-1</text><text x="326.00" y="32.80" font-size="9.1" text-anchor="end" fill="#1a1a1a" font-family="Liberation Sans, sans-serif" >1</text><text x="293.40" y="32.80" font-size="9.1" text-anchor="middle" fill="#1a1a1a" font-family="Liberation Sans, sans-serif" >0</text><rect x="395.00" y="35.50" width="64.80" height="5.40" fill="url(#gBL)" stroke="#9a9a9a" stroke-width="0.6"/><text x="395.20" y="32.80" font-size="9.1" text-anchor="start" fill="#1a1a1a" font-family="Liberation Sans, sans-serif" >0</text><text x="460.00" y="32.80" font-size="9.1" text-anchor="end" fill="#1a1a1a" font-family="Liberation Sans, sans-serif" >550</text><rect x="395.00" y="125.30" width="64.80" height="5.40" fill="url(#gBL)" stroke="#9a9a9a" stroke-width="0.6"/><text x="395.20" y="122.60" font-size="9.1" text-anchor="start" fill="#1a1a1a" font-family="Liberation Sans, sans-serif" >0</text><text x="460.00" y="122.60" font-size="9.1" text-anchor="end" fill="#1a1a1a" font-family="Liberation Sans, sans-serif" >250</text><rect x="395.00" y="212.20" width="64.80" height="5.40" fill="url(#gBL)" stroke="#9a9a9a" stroke-width="0.6"/><text x="395.20" y="209.50" font-size="9.1" text-anchor="start" fill="#1a1a1a" font-family="Liberation Sans, sans-serif" >0</text><text x="460.00" y="209.50" font-size="9.1" text-anchor="end" fill="#1a1a1a" font-family="Liberation Sans, sans-serif" >200</text><rect x="395.00" y="300.20" width="64.80" height="5.40" fill="url(#gBL)" stroke="#9a9a9a" stroke-width="0.6"/><text x="395.20" y="297.50" font-size="9.1" text-anchor="start" fill="#1a1a1a" font-family="Liberation Sans, sans-serif" >0</text><text x="460.00" y="297.50" font-size="9.1" text-anchor="end" fill="#1a1a1a" font-family="Liberation Sans, sans-serif" >200</text><rect x="468.00" y="35.50" width="64.80" height="5.40" fill="url(#gRB)" stroke="#9a9a9a" stroke-width="0.6"/><text x="468.20" y="32.80" font-size="9.1" text-anchor="start" fill="#1a1a1a" font-family="Liberation Sans, sans-serif" >-1</text><text x="533.00" y="32.80" font-size="9.1" text-anchor="end" fill="#1a1a1a" font-family="Liberation Sans, sans-serif" >1</text><text x="500.40" y="32.80" font-size="9.1" text-anchor="middle" fill="#1a1a1a" font-family="Liberation Sans, sans-serif" >0</text><rect x="542.00" y="35.50" width="64.80" height="5.40" fill="url(#gRB)" stroke="#9a9a9a" stroke-width="0.6"/><text x="542.20" y="32.80" font-size="9.1" text-anchor="start" fill="#1a1a1a" font-family="Liberation Sans, sans-serif" >-1</text><text x="607.00" y="32.80" font-size="9.1" text-anchor="end" fill="#1a1a1a" font-family="Liberation Sans, sans-serif" >1</text><text x="574.40" y="32.80" font-size="9.1" text-anchor="middle" fill="#1a1a1a" font-family="Liberation Sans, sans-serif" >0</text><rect x="616.00" y="35.50" width="64.80" height="5.40" fill="url(#gRB)" stroke="#9a9a9a" stroke-width="0.6"/><text x="616.20" y="32.80" font-size="9.1" text-anchor="start" fill="#1a1a1a" font-family="Liberation Sans, sans-serif" >-1</text><text x="681.00" y="32.80" font-size="9.1" text-anchor="end" fill="#1a1a1a" font-family="Liberation Sans, sans-serif" >1</text><text x="648.40" y="32.80" font-size="9.1" text-anchor="middle" fill="#1a1a1a" font-family="Liberation Sans, sans-serif" >0</text><g stroke="#3a3a3a" stroke-width="0.9" fill="none"><path d="M32.30 48.60 V108.60 M30.10 48.60 H34.50 M30.10 78.60 H34.50 M30.10 108.60 H34.50"/></g><text x="28.70" y="54.10" font-size="8.8" text-anchor="end" fill="#1a1a1a" font-family="Liberation Sans, sans-serif" >0.7</text><text x="27.90" y="81.10" font-size="8.8" text-anchor="end" fill="#1a1a1a" font-family="Liberation Sans, sans-serif" >0</text><text x="28.90" y="108.90" font-size="8.8" text-anchor="end" fill="#1a1a1a" font-family="Liberation Sans, sans-serif" >-0.7</text><text x="2.70" y="79.10" font-size="14.3" fill="#1a1a1a" font-family="Liberation Sans, sans-serif">k<tspan font-size="9" dy="4.3">y</tspan></text><g stroke="#3a3a3a" stroke-width="0.9" fill="none"><path d="M32.30 136.60 V196.60 M30.10 136.60 H34.50 M30.10 166.60 H34.50 M30.10 196.60 H34.50"/></g><text x="28.70" y="142.10" font-size="8.8" text-anchor="end" fill="#1a1a1a" font-family="Liberation Sans, sans-serif" >0.7</text><text x="27.90" y="169.10" font-size="8.8" text-anchor="end" fill="#1a1a1a" font-family="Liberation Sans, sans-serif" >0</text><text x="28.90" y="196.90" font-size="8.8" text-anchor="end" fill="#1a1a1a" font-family="Liberation Sans, sans-serif" >-0.7</text><text x="2.70" y="167.10" font-size="14.3" fill="#1a1a1a" font-family="Liberation Sans, sans-serif">k<tspan font-size="9" dy="4.3">y</tspan></text><g stroke="#3a3a3a" stroke-width="0.9" fill="none"><path d="M32.30 224.60 V284.60 M30.10 224.60 H34.50 M30.10 254.60 H34.50 M30.10 284.60 H34.50"/></g><text x="28.70" y="230.10" font-size="8.8" text-anchor="end" fill="#1a1a1a" font-family="Liberation Sans, sans-serif" >0.7</text><text x="27.90" y="257.10" font-size="8.8" text-anchor="end" fill="#1a1a1a" font-family="Liberation Sans, sans-serif" >0</text><text x="28.90" y="284.90" font-size="8.8" text-anchor="end" fill="#1a1a1a" font-family="Liberation Sans, sans-serif" >-0.7</text><text x="2.70" y="255.10" font-size="14.3" fill="#1a1a1a" font-family="Liberation Sans, sans-serif">k<tspan font-size="9" dy="4.3">y</tspan></text><g stroke="#3a3a3a" stroke-width="0.9" fill="none"><path d="M32.30 312.60 V372.60 M30.10 312.60 H34.50 M30.10 342.60 H34.50 M30.10 372.60 H34.50"/></g><text x="28.70" y="318.10" font-size="8.8" text-anchor="end" fill="#1a1a1a" font-family="Liberation Sans, sans-serif" >0.7</text><text x="27.90" y="345.10" font-size="8.8" text-anchor="end" fill="#1a1a1a" font-family="Liberation Sans, sans-serif" >0</text><text x="28.90" y="372.90" font-size="8.8" text-anchor="end" fill="#1a1a1a" font-family="Liberation Sans, sans-serif" >-0.7</text><text x="2.70" y="343.10" font-size="14.3" fill="#1a1a1a" font-family="Liberation Sans, sans-serif">k<tspan font-size="9" dy="4.3">y</tspan></text><g stroke="#3a3a3a" stroke-width="0.9" fill="none"><path d="M42.60 382.60 H102.60 M42.60 380.40 V384.80 M72.60 380.40 V384.80 M102.60 380.40 V384.80"/></g><text x="39.60" y="396.00" font-size="8.5" text-anchor="start" fill="#1a1a1a" font-family="Liberation Sans, sans-serif" >-0.7</text><text x="72.60" y="396.00" font-size="8.5" text-anchor="middle" fill="#1a1a1a" font-family="Liberation Sans, sans-serif" >0</text><text x="105.10" y="396.00" font-size="8.5" text-anchor="end" fill="#1a1a1a" font-family="Liberation Sans, sans-serif" >0.7</text><text x="67.70" y="411.4" font-size="14" fill="#1a1a1a" font-family="Liberation Sans, sans-serif">k<tspan font-size="9" dy="4.3">x</tspan></text><g stroke="#3a3a3a" stroke-width="0.9" fill="none"><path d="M115.60 382.60 H175.60 M115.60 380.40 V384.80 M145.60 380.40 V384.80 M175.60 380.40 V384.80"/></g><text x="112.60" y="396.00" font-size="8.5" text-anchor="start" fill="#1a1a1a" font-family="Liberation Sans, sans-serif" >-0.7</text><text x="145.60" y="396.00" font-size="8.5" text-anchor="middle" fill="#1a1a1a" font-family="Liberation Sans, sans-serif" >0</text><text x="178.10" y="396.00" font-size="8.5" text-anchor="end" fill="#1a1a1a" font-family="Liberation Sans, sans-serif" >0.7</text><text x="143.70" y="411.4" font-size="14" fill="#1a1a1a" font-family="Liberation Sans, sans-serif">k<tspan font-size="9" dy="4.3">x</tspan></text><g stroke="#3a3a3a" stroke-width="0.9" fill="none"><path d="M189.60 382.60 H249.60 M189.60 380.40 V384.80 M219.60 380.40 V384.80 M249.60 380.40 V384.80"/></g><text x="186.60" y="396.00" font-size="8.5" text-anchor="start" fill="#1a1a1a" font-family="Liberation Sans, sans-serif" >-0.7</text><text x="219.60" y="396.00" font-size="8.5" text-anchor="middle" fill="#1a1a1a" font-family="Liberation Sans, sans-serif" >0</text><text x="252.10" y="396.00" font-size="8.5" text-anchor="end" fill="#1a1a1a" font-family="Liberation Sans, sans-serif" >0.7</text><text x="217.90" y="411.4" font-size="14" fill="#1a1a1a" font-family="Liberation Sans, sans-serif">k<tspan font-size="9" dy="4.3">x</tspan></text><g stroke="#3a3a3a" stroke-width="0.9" fill="none"><path d="M263.60 382.60 H323.60 M263.60 380.40 V384.80 M293.60 380.40 V384.80 M323.60 380.40 V384.80"/></g><text x="260.60" y="396.00" font-size="8.5" text-anchor="start" fill="#1a1a1a" font-family="Liberation Sans, sans-serif" >-0.7</text><text x="293.60" y="396.00" font-size="8.5" text-anchor="middle" fill="#1a1a1a" font-family="Liberation Sans, sans-serif" >0</text><text x="326.10" y="396.00" font-size="8.5" text-anchor="end" fill="#1a1a1a" font-family="Liberation Sans, sans-serif" >0.7</text><text x="292.10" y="411.4" font-size="14" fill="#1a1a1a" font-family="Liberation Sans, sans-serif">k<tspan font-size="9" dy="4.3">x</tspan></text><g stroke="#3a3a3a" stroke-width="0.9" fill="none"><path d="M387.30 48.60 V108.60 M385.10 48.60 H389.50 M385.10 78.60 H389.50 M385.10 108.60 H389.50"/></g><text x="383.70" y="54.10" font-size="8.8" text-anchor="end" fill="#1a1a1a" font-family="Liberation Sans, sans-serif" >0.7</text><text x="382.90" y="81.10" font-size="8.8" text-anchor="end" fill="#1a1a1a" font-family="Liberation Sans, sans-serif" >0</text><text x="383.90" y="108.90" font-size="8.8" text-anchor="end" fill="#1a1a1a" font-family="Liberation Sans, sans-serif" >-0.7</text><text x="357.70" y="79.10" font-size="14.3" fill="#1a1a1a" font-family="Liberation Sans, sans-serif">k<tspan font-size="9" dy="4.3">y</tspan></text><g stroke="#3a3a3a" stroke-width="0.9" fill="none"><path d="M387.30 136.60 V196.60 M385.10 136.60 H389.50 M385.10 166.60 H389.50 M385.10 196.60 H389.50"/></g><text x="383.70" y="142.10" font-size="8.8" text-anchor="end" fill="#1a1a1a" font-family="Liberation Sans, sans-serif" >0.7</text><text x="382.90" y="169.10" font-size="8.8" text-anchor="end" fill="#1a1a1a" font-family="Liberation Sans, sans-serif" >0</text><text x="383.90" y="196.90" font-size="8.8" text-anchor="end" fill="#1a1a1a" font-family="Liberation Sans, sans-serif" >-0.7</text><text x="357.70" y="167.10" font-size="14.3" fill="#1a1a1a" font-family="Liberation Sans, sans-serif">k<tspan font-size="9" dy="4.3">y</tspan></text><g stroke="#3a3a3a" stroke-width="0.9" fill="none"><path d="M387.30 224.60 V284.60 M385.10 224.60 H389.50 M385.10 254.60 H389.50 M385.10 284.60 H389.50"/></g><text x="383.70" y="230.10" font-size="8.8" text-anchor="end" fill="#1a1a1a" font-family="Liberation Sans, sans-serif" >0.7</text><text x="382.90" y="257.10" font-size="8.8" text-anchor="end" fill="#1a1a1a" font-family="Liberation Sans, sans-serif" >0</text><text x="383.90" y="284.90" font-size="8.8" text-anchor="end" fill="#1a1a1a" font-family="Liberation Sans, sans-serif" >-0.7</text><text x="357.70" y="255.10" font-size="14.3" fill="#1a1a1a" font-family="Liberation Sans, sans-serif">k<tspan font-size="9" dy="4.3">y</tspan></text><g stroke="#3a3a3a" stroke-width="0.9" fill="none"><path d="M387.30 312.60 V372.60 M385.10 312.60 H389.50 M385.10 342.60 H389.50 M385.10 372.60 H389.50"/></g><text x="383.70" y="318.10" font-size="8.8" text-anchor="end" fill="#1a1a1a" font-family="Liberation Sans, sans-serif" >0.7</text><text x="382.90" y="345.10" font-size="8.8" text-anchor="end" fill="#1a1a1a" font-family="Liberation Sans, sans-serif" >0</text><text x="383.90" y="372.90" font-size="8.8" text-anchor="end" fill="#1a1a1a" font-family="Liberation Sans, sans-serif" >-0.7</text><text x="357.70" y="343.10" font-size="14.3" fill="#1a1a1a" font-family="Liberation Sans, sans-serif">k<tspan font-size="9" dy="4.3">y</tspan></text><g stroke="#3a3a3a" stroke-width="0.9" fill="none"><path d="M397.60 382.60 H457.60 M397.60 380.40 V384.80 M427.60 380.40 V384.80 M457.60 380.40 V384.80"/></g><text x="394.60" y="396.00" font-size="8.5" text-anchor="start" fill="#1a1a1a" font-family="Liberation Sans, sans-serif" >-0.7</text><text x="427.60" y="396.00" font-size="8.5" text-anchor="middle" fill="#1a1a1a" font-family="Liberation Sans, sans-serif" >0</text><text x="460.10" y="396.00" font-size="8.5" text-anchor="end" fill="#1a1a1a" font-family="Liberation Sans, sans-serif" >0.7</text><text x="423.00" y="411.4" font-size="14" fill="#1a1a1a" font-family="Liberation Sans, sans-serif">k<tspan font-size="9" dy="4.3">x</tspan></text><g stroke="#3a3a3a" stroke-width="0.9" fill="none"><path d="M470.60 382.60 H530.60 M470.60 380.40 V384.80 M500.60 380.40 V384.80 M530.60 380.40 V384.80"/></g><text x="467.60" y="396.00" font-size="8.5" text-anchor="start" fill="#1a1a1a" font-family="Liberation Sans, sans-serif" >-0.7</text><text x="500.60" y="396.00" font-size="8.5" text-anchor="middle" fill="#1a1a1a" font-family="Liberation Sans, sans-serif" >0</text><text x="533.10" y="396.00" font-size="8.5" text-anchor="end" fill="#1a1a1a" font-family="Liberation Sans, sans-serif" >0.7</text><text x="498.60" y="411.4" font-size="14" fill="#1a1a1a" font-family="Liberation Sans, sans-serif">k<tspan font-size="9" dy="4.3">x</tspan></text><g stroke="#3a3a3a" stroke-width="0.9" fill="none"><path d="M544.60 382.60 H604.60 M544.60 380.40 V384.80 M574.60 380.40 V384.80 M604.60 380.40 V384.80"/></g><text x="541.60" y="396.00" font-size="8.5" text-anchor="start" fill="#1a1a1a" font-family="Liberation Sans, sans-serif" >-0.7</text><text x="574.60" y="396.00" font-size="8.5" text-anchor="middle" fill="#1a1a1a" font-family="Liberation Sans, sans-serif" >0</text><text x="607.10" y="396.00" font-size="8.5" text-anchor="end" fill="#1a1a1a" font-family="Liberation Sans, sans-serif" >0.7</text><text x="573.10" y="411.4" font-size="14" fill="#1a1a1a" font-family="Liberation Sans, sans-serif">k<tspan font-size="9" dy="4.3">x</tspan></text><g stroke="#3a3a3a" stroke-width="0.9" fill="none"><path d="M618.60 382.60 H678.60 M618.60 380.40 V384.80 M648.60 380.40 V384.80 M678.60 380.40 V384.80"/></g><text x="615.60" y="396.00" font-size="8.5" text-anchor="start" fill="#1a1a1a" font-family="Liberation Sans, sans-serif" >-0.7</text><text x="648.60" y="396.00" font-size="8.5" text-anchor="middle" fill="#1a1a1a" font-family="Liberation Sans, sans-serif" >0</text><text x="681.10" y="396.00" font-size="8.5" text-anchor="end" fill="#1a1a1a" font-family="Liberation Sans, sans-serif" >0.7</text><text x="647.10" y="411.4" font-size="14" fill="#1a1a1a" font-family="Liberation Sans, sans-serif">k<tspan font-size="9" dy="4.3">x</tspan></text><clipPath id="cp000"><rect x="0" y="0" width="65.50" height="65.50"/></clipPath><g transform="translate(40.00 46.00)"><g clip-path="url(#cp000)"><rect width="66" height="66" fill="#24397c"/><circle cx="32.75" cy="32.75" r="27.00" fill="url(#rg1)"/><ellipse cx="32.20" cy="32.00" rx="10.50" ry="9.50" transform="rotate(0.0 32.20 32.00)" fill="none" stroke="#3f94d6" stroke-width="5.00" opacity="0.95" filter="url(#b1_4)"/><ellipse cx="32.20" cy="32.00" rx="10.00" ry="9.00" transform="rotate(0.0 32.20 32.00)" fill="none" stroke="#5aaae0" stroke-width="2.50" opacity="0.80" filter="url(#b1)"/><ellipse cx="32.20" cy="32.00" rx="16.00" ry="15.00" transform="rotate(0.0 32.20 32.00)" fill="none" stroke="#2f80c8" stroke-width="2.50" opacity="0.45" filter="url(#b2)"/><ellipse cx="32.20" cy="32.00" rx="6.00" ry="5.50" transform="rotate(0.0 32.20 32.00)" fill="#1b60b2" opacity="1.00" filter="url(#b1_2)"/><ellipse cx="32.00" cy="32.40" rx="5.00" ry="3.00" transform="rotate(0.0 32.00 32.40)" fill="#ffffff" opacity="1.00" filter="url(#b1_1)"/><ellipse cx="32.00" cy="32.40" rx="3.40" ry="1.70" transform="rotate(0.0 32.00 32.40)" fill="#ffffff" opacity="1.00" filter="url(#b0_5)"/><circle cx="32.20" cy="25.50" r="1.30" fill="#8cc4ea" opacity="0.80" filter="url(#b0_8)"/><circle cx="32.6" cy="32.8" r="29.6" fill="none" stroke="#d4e0f2" stroke-width="0.95" stroke-dasharray="2.6 2.5"/><text x="32.60" y="58.3" font-size="11.4" letter-spacing="0.1" text-anchor="middle" fill="#f4f6fa" stroke="#f4f6fa" stroke-width="0.25" font-family="Liberation Sans, sans-serif">vertical</text></g><rect x="0.65" y="0.65" width="64.20" height="64.20" fill="none" stroke="#111" stroke-width="1.4"/></g><clipPath id="cp001"><rect x="0" y="0" width="65.50" height="65.50"/></clipPath><g transform="translate(113.00 46.00)"><g clip-path="url(#cp001)"><rect width="66" height="66" fill="#999" filter="url(#n0)"/><g clip-path="url(#dp001)"><circle cx="32.75" cy="32.75" r="29.00" fill="#1f56a4"/><circle cx="32.75" cy="32.75" r="25.00" fill="none" stroke="#2e6cb6" stroke-width="6.00" opacity="0.70" filter="url(#b3)"/><ellipse cx="15.00" cy="32.00" rx="3.50" ry="10.00" transform="rotate(0.0 15.00 32.00)" fill="#3a7cc4" opacity="0.80" filter="url(#b2_5)"/><ellipse cx="32.00" cy="31.00" rx="6.50" ry="15.00" transform="rotate(0.0 32.00 31.00)" fill="#163f85" opacity="1.00" filter="url(#b2_5)"/><ellipse cx="31.00" cy="30.00" rx="3.00" ry="4.00" transform="rotate(0.0 31.00 30.00)" fill="#0f3478" opacity="0.60" filter="url(#b2)"/><path d="M18.54 27.00 L18.50 25.77 L18.59 24.54 L18.82 23.32 L19.17 22.14 L19.64 21.00 L20.24 19.92 L20.95 18.91 L21.76 17.98 L22.67 17.14 L23.66 16.41 L24.72 15.78 L25.85 15.27 L27.02 14.89" fill="none" stroke="#cfe4f4" stroke-width="5.50" stroke-linecap="round" opacity="0.90" filter="url(#b1_8)"/><path d="M32.00 12.67 L33.22 12.53 L34.45 12.51 L35.68 12.62 L36.89 12.87 L38.06 13.24 L39.19 13.74 L40.25 14.35 L41.25 15.07 L42.16 15.90 L42.98 16.81 L43.70 17.82 L44.30 18.89 L44.79 20.02 L45.15 21.19 L45.39 22.40" fill="none" stroke="#cfe4f4" stroke-width="5.50" stroke-linecap="round" opacity="0.90" filter="url(#b1_8)"/><path d="M46.70 35.44 L46.80 36.79 L46.75 38.15 L46.56 39.49 L46.22 40.80 L45.75 42.07 L45.15 43.28 L44.43 44.43 L43.58 45.49 L42.63 46.45 L41.58 47.31 L40.45 48.06 L39.25 48.68 L37.98 49.16 L36.68 49.52 L35.34 49.73" fill="none" stroke="#cfe4f4" stroke-width="5.50" stroke-linecap="round" opacity="0.90" filter="url(#b1_8)"/><path d="M34.25 50.93 L32.92 51.00 L31.59 50.92 L30.28 50.69 L28.99 50.31 L27.76 49.80 L26.60 49.15 L25.51 48.37 L24.51 47.49" fill="none" stroke="#9cc8ea" stroke-width="4.00" stroke-linecap="round" opacity="0.80" filter="url(#b1_8)"/><ellipse cx="23.80" cy="15.60" rx="2.60" ry="1.20" transform="rotate(-20.0 23.80 15.60)" fill="#e07a5a" opacity="1.00" filter="url(#b0_8)"/><ellipse cx="37.50" cy="14.20" rx="2.60" ry="1.20" transform="rotate(15.0 37.50 14.20)" fill="#e07a5a" opacity="1.00" filter="url(#b0_8)"/></g><rect width="66" height="66" fill="#999" filter="url(#n0)" mask="url(#m2)"/></g><rect x="0.65" y="0.65" width="64.20" height="64.20" fill="none" stroke="#111" stroke-width="1.4"/></g><clipPath id="cp002"><rect x="0" y="0" width="65.50" height="65.50"/></clipPath><g transform="translate(187.00 46.00)"><g clip-path="url(#cp002)"><rect width="66" height="66" fill="#999" filter="url(#n1)"/><g clip-path="url(#dp002)"><circle cx="32.75" cy="32.75" r="29.50" fill="#f7f7f7"/><path d="M11.95 35.67 L11.76 33.46 L11.80 31.24 L12.08 29.03 L12.59 26.87 L13.33 24.77 L14.28 22.76 L15.44 20.87 L16.79 19.10 L18.32 17.49 L20.01 16.05 L21.85 14.80 L23.81 13.75 L25.87 12.91 L28.00 12.29 L30.19 11.91" fill="none" stroke="#c8323a" stroke-width="13.00" stroke-linecap="round" opacity="1.00" filter="url(#b2_2)"/><path d="M35.31 11.91 L37.50 12.30 L39.64 12.91 L41.71 13.76 L43.67 14.81 L45.51 16.07 L47.21 17.52 L48.74 19.13 L50.09 20.91 L51.25 22.81 L52.20 24.83 L52.93 26.93 L53.43 29.10" fill="none" stroke="#2a6bb3" stroke-width="13.00" stroke-linecap="round" opacity="1.00" filter="url(#b2_2)"/><path d="M53.74 33.48 L53.53 35.76 L53.08 37.99 L52.40 40.17 L51.47 42.26 L50.33 44.23 L48.98 46.07 L47.44 47.76 L45.72 49.26 L43.85 50.57 L41.85 51.67 L39.75 52.55 L37.56 53.19 L35.31 53.59" fill="none" stroke="#c8363a" stroke-width="13.00" stroke-linecap="round" opacity="1.00" filter="url(#b2_2)"/><path d="M30.19 53.59 L27.99 53.20 L25.84 52.58 L23.78 51.74 L21.81 50.67 L19.97 49.41 L18.27 47.96 L16.73 46.33 L15.38 44.55 L14.23 42.64 L13.28 40.62" fill="none" stroke="#2f70b6" stroke-width="13.00" stroke-linecap="round" opacity="1.00" filter="url(#b2_2)"/><path d="M7.38 41.98 L6.48 38.98 L5.93 35.88 L5.75 32.75 L5.93 29.62 L6.48 26.52 L7.38 23.52" fill="none" stroke="#f4c8b8" stroke-width="5.00" stroke-linecap="round" opacity="0.80" filter="url(#b2)"/><path d="M58.12 23.52 L58.95 26.22 L59.49 28.99 L59.73 31.81 L59.68 34.63 L59.34 37.44" fill="none" stroke="#bcd8ee" stroke-width="5.00" stroke-linecap="round" opacity="0.80" filter="url(#b2)"/><circle cx="32.75" cy="32.75" r="29.00" fill="none" stroke="#f6f0f0" stroke-width="5.00" opacity="0.60" filter="url(#b2_5)"/><ellipse cx="32.75" cy="32.75" rx="10.50" ry="14.00" transform="rotate(0.0 32.75 32.75)" fill="#f8f8f8" opacity="1.00" filter="url(#b1_8)"/><ellipse cx="29.00" cy="20.00" rx="3.00" ry="2.50" transform="rotate(0.0 29.00 20.00)" fill="#9ec6e4" opacity="1.00" filter="url(#b1_2)"/><ellipse cx="26.50" cy="27.00" rx="2.60" ry="2.60" transform="rotate(0.0 26.50 27.00)" fill="#f2b8a0" opacity="1.00" filter="url(#b1_2)"/><ellipse cx="33.50" cy="26.50" rx="2.20" ry="2.20" transform="rotate(0.0 33.50 26.50)" fill="#f6c8b4" opacity="1.00" filter="url(#b1_2)"/><ellipse cx="28.30" cy="34.00" rx="2.50" ry="2.20" transform="rotate(0.0 28.30 34.00)" fill="#5f9ad0" opacity="1.00" filter="url(#b1_2)"/><ellipse cx="36.50" cy="33.50" rx="2.60" ry="2.60" transform="rotate(0.0 36.50 33.50)" fill="#ee9c84" opacity="1.00" filter="url(#b1_2)"/><ellipse cx="31.50" cy="38.00" rx="2.40" ry="2.00" transform="rotate(0.0 31.50 38.00)" fill="#8fbde0" opacity="1.00" filter="url(#b1_2)"/></g><rect width="66" height="66" fill="#999" filter="url(#n1)" mask="url(#m4)"/></g><rect x="0.65" y="0.65" width="64.20" height="64.20" fill="none" stroke="#111" stroke-width="1.4"/></g><clipPath id="cp003"><rect x="0" y="0" width="65.50" height="65.50"/></clipPath><g transform="translate(261.00 46.00)"><g clip-path="url(#cp003)"><rect width="66" height="66" fill="#999" filter="url(#n2)"/><g clip-path="url(#dp003)"><circle cx="32.75" cy="32.75" r="29.50" fill="#f7dccf"/><circle cx="32.75" cy="32.75" r="26.50" fill="none" stroke="#eda78c" stroke-width="6.00" opacity="0.85" filter="url(#b2_5)"/><path d="M48.82 51.90 L46.67 53.51 L44.37 54.89 L41.93 56.00 L39.38 56.85 L36.76 57.43 L34.09 57.71 L31.41 57.71 L28.74 57.43 L26.12 56.85 L23.57 56.00 L21.13 54.89 L18.83 53.51 L16.68 51.90" fill="none" stroke="#dc6e58" stroke-width="5.00" stroke-linecap="round" opacity="0.70" filter="url(#b2_5)"/><circle cx="32.75" cy="32.75" r="20.50" fill="none" stroke="#fcf6f2" stroke-width="5.00" opacity="0.85" filter="url(#b2_2)"/><path d="M21.78 29.91 L21.08 29.21 L20.46 28.44 L19.92 27.61 L19.48 26.73 L19.13 25.80 L18.89 24.85 L18.74 23.87 L18.70 22.88 L18.77 21.90 L18.94 20.92 L19.21 19.97 L19.58 19.06 L20.04 18.18 L20.60 17.37 L21.24 16.61 L21.95 15.93 L22.74 15.33 L23.58 14.82 L24.48 14.39 L25.41 14.07 L26.37 13.84 L27.35 13.72" fill="none" stroke="#b0202c" stroke-width="7.50" stroke-linecap="round" opacity="1.00" filter="url(#b1_4)"/><ellipse cx="26.50" cy="27.50" rx="3.00" ry="2.00" transform="rotate(35.0 26.50 27.50)" fill="#c84a48" opacity="0.80" filter="url(#b1_4)"/><ellipse cx="40.50" cy="20.00" rx="10.50" ry="5.80" transform="rotate(40.0 40.50 20.00)" fill="#2a68b0" opacity="1.00" filter="url(#b1_3)"/><ellipse cx="39.50" cy="21.00" rx="6.00" ry="2.50" transform="rotate(40.0 39.50 21.00)" fill="#78a8d6" opacity="0.60" filter="url(#b1_3)"/><ellipse cx="24.00" cy="41.50" rx="10.00" ry="5.50" transform="rotate(38.0 24.00 41.50)" fill="#2a68b0" opacity="1.00" filter="url(#b1_3)"/><path d="M47.5 30 Q48 44 38 49.5" fill="none" stroke="#b0202c" stroke-width="7.50" stroke-linecap="round" stroke-linejoin="round" opacity="1.00" filter="url(#b1_4)"/><path d="M40 50 Q35 54 30 55" fill="none" stroke="#c84444" stroke-width="6.00" stroke-linecap="round" stroke-linejoin="round" opacity="0.80" filter="url(#b2)"/><ellipse cx="33.00" cy="33.00" rx="5.00" ry="2.00" transform="rotate(-50.0 33.00 33.00)" fill="#f2c2b0" opacity="0.80" filter="url(#b1_2)"/></g><rect width="66" height="66" fill="#999" filter="url(#n2)" mask="url(#m6)"/></g><rect x="0.65" y="0.65" width="64.20" height="64.20" fill="none" stroke="#111" stroke-width="1.4"/></g><clipPath id="cp010"><rect x="0" y="0" width="65.50" height="65.50"/></clipPath><g transform="translate(40.00 134.00)"><g clip-path="url(#cp010)"><rect width="66" height="66" fill="#24397c"/><circle cx="32.75" cy="32.75" r="25.50" fill="url(#rg8)"/><ellipse cx="31.60" cy="32.50" rx="11.00" ry="11.20" transform="rotate(0.0 31.60 32.50)" fill="none" stroke="#6ab6e6" stroke-width="3.80" opacity="0.95" filter="url(#b1_3)"/><path d="M22.07 38.00 L21.55 36.97 L21.14 35.90 L20.84 34.79 L20.66 33.65 L20.60 32.50 L20.66 31.35 L20.84 30.21 L21.14 29.10 L21.55 28.03 L22.07 27.00" fill="none" stroke="#a6d6f2" stroke-width="3.00" stroke-linecap="round" opacity="0.80" filter="url(#b1_2)"/><ellipse cx="31.60" cy="32.50" rx="17.00" ry="17.00" transform="rotate(0.0 31.60 32.50)" fill="none" stroke="#3a8ad0" stroke-width="2.50" opacity="0.40" filter="url(#b2)"/><circle cx="31.60" cy="33.00" r="7.00" fill="#1f68bc" opacity="1.00" filter="url(#b1_4)"/><ellipse cx="31.60" cy="33.40" rx="3.00" ry="4.30" transform="rotate(0.0 31.60 33.40)" fill="#ffffff" opacity="1.00" filter="url(#b1_1)"/><ellipse cx="31.60" cy="33.40" rx="1.80" ry="2.80" transform="rotate(0.0 31.60 33.40)" fill="#ffffff" opacity="1.00" filter="url(#b0_5)"/><circle cx="32.6" cy="32.8" r="29.6" fill="none" stroke="#d4e0f2" stroke-width="0.95" stroke-dasharray="2.6 2.5"/><text x="32.60" y="58.3" font-size="11.4" letter-spacing="0.1" text-anchor="middle" fill="#f4f6fa" stroke="#f4f6fa" stroke-width="0.25" font-family="Liberation Sans, sans-serif">horizontal</text></g><rect x="0.65" y="0.65" width="64.20" height="64.20" fill="none" stroke="#111" stroke-width="1.4"/></g><clipPath id="cp011"><rect x="0" y="0" width="65.50" height="65.50"/></clipPath><g transform="translate(113.00 134.00)"><g clip-path="url(#cp011)"><rect width="66" height="66" fill="#999" filter="url(#n3)"/><g clip-path="url(#dp011)"><circle cx="32.75" cy="32.75" r="29.00" fill="#b8222a"/><circle cx="32.75" cy="32.75" r="26.00" fill="none" stroke="#c84040" stroke-width="5.00" opacity="0.80" filter="url(#b2_2)"/><path d="M16.21 30.07 L16.56 28.59 L17.06 27.17 L17.71 25.80 L18.50 24.51 L19.43 23.32 L20.49 22.23 L21.65 21.26 L22.92 20.42 L24.26 19.73 L25.67 19.19" fill="none" stroke="#f4a888" stroke-width="7.50" stroke-linecap="round" opacity="1.00" filter="url(#b1_6)"/><path d="M39.83 19.19 L41.24 19.73 L42.58 20.42 L43.85 21.26 L45.01 22.23 L46.07 23.32 L47.00 24.51 L47.79 25.80 L48.44 27.17 L48.94 28.59 L49.29 30.07" fill="none" stroke="#f4a888" stroke-width="7.50" stroke-linecap="round" opacity="1.00" filter="url(#b1_6)"/><path d="M25.67 46.31 L24.26 45.77 L22.92 45.08 L21.65 44.24 L20.49 43.27 L19.43 42.18 L18.50 40.99 L17.71 39.70 L17.06 38.33 L16.56 36.91 L16.21 35.43" fill="none" stroke="#f4a888" stroke-width="7.50" stroke-linecap="round" opacity="1.00" filter="url(#b1_6)"/><path d="M49.29 35.43 L48.94 36.91 L48.44 38.33 L47.79 39.70 L47.00 40.99 L46.07 42.18 L45.01 43.27 L43.85 44.24 L42.58 45.08 L41.24 45.77 L39.83 46.31" fill="none" stroke="#f4a888" stroke-width="7.50" stroke-linecap="round" opacity="1.00" filter="url(#b1_6)"/><path d="M15.70 28.67 L16.21 27.14 L16.87 25.67 L17.69 24.28 L18.66 22.99 L19.77 21.81 L20.99 20.76 L22.32 19.85 L23.75 19.09" fill="none" stroke="#fff4ec" stroke-width="3.50" stroke-linecap="round" opacity="1.00" filter="url(#b1_1)"/><path d="M41.75 19.09 L43.18 19.85 L44.51 20.76 L45.73 21.81 L46.84 22.99 L47.81 24.28 L48.63 25.67 L49.29 27.14 L49.80 28.67" fill="none" stroke="#fff4ec" stroke-width="3.50" stroke-linecap="round" opacity="1.00" filter="url(#b1_1)"/><path d="M23.75 46.41 L22.32 45.65 L20.99 44.74 L19.77 43.69 L18.66 42.51 L17.69 41.22 L16.87 39.83 L16.21 38.36 L15.70 36.83" fill="none" stroke="#fff4ec" stroke-width="3.50" stroke-linecap="round" opacity="1.00" filter="url(#b1_1)"/><path d="M49.80 36.83 L49.29 38.36 L48.63 39.83 L47.81 41.22 L46.84 42.51 L45.73 43.69 L44.51 44.74 L43.18 45.65 L41.75 46.41" fill="none" stroke="#fff4ec" stroke-width="3.50" stroke-linecap="round" opacity="1.00" filter="url(#b1_1)"/><path d="M12 33 H53" fill="none" stroke="#8c1422" stroke-width="6.00" stroke-linecap="round" stroke-linejoin="round" opacity="0.85" filter="url(#b2_2)"/><path d="M32.5 5 V61" fill="none" stroke="#8c1422" stroke-width="6.50" stroke-linecap="round" stroke-linejoin="round" opacity="0.85" filter="url(#b2_2)"/><circle cx="32.75" cy="32.75" r="5.00" fill="#a01a28" opacity="1.00" filter="url(#b2)"/></g><rect width="66" height="66" fill="#999" filter="url(#n3)" mask="url(#m9)"/></g><rect x="0.65" y="0.65" width="64.20" height="64.20" fill="none" stroke="#111" stroke-width="1.4"/></g><clipPath id="cp012"><rect x="0" y="0" width="65.50" height="65.50"/></clipPath><g transform="translate(187.00 134.00)"><g clip-path="url(#cp012)"><rect width="66" height="66" fill="#999" filter="url(#n4)"/><g clip-path="url(#dp012)"><circle cx="32.75" cy="32.75" r="29.00" fill="#f6f4f4"/><path d="M9.92 25.33 L10.82 22.99 L11.97 20.75 L13.33 18.64 L14.91 16.69 L16.69 14.91 L18.64 13.33 L20.75 11.97 L22.99 10.82 L25.33 9.92 L27.76 9.27" fill="none" stroke="#d05050" stroke-width="8.00" stroke-linecap="round" opacity="0.45" filter="url(#b2_5)"/><path d="M38.56 9.46 L41.13 10.26 L43.60 11.34 L45.94 12.70 L48.11 14.31 L50.08 16.15 L51.83 18.20 L53.35 20.43 L54.60 22.82 L55.58 25.33" fill="none" stroke="#3f7cc0" stroke-width="8.00" stroke-linecap="round" opacity="0.45" filter="url(#b2_5)"/><path d="M27.76 56.23 L25.33 55.58 L22.99 54.68 L20.75 53.53 L18.64 52.17 L16.69 50.59 L14.91 48.81 L13.33 46.86 L11.97 44.75 L10.82 42.51 L9.92 40.17" fill="none" stroke="#3f7cc0" stroke-width="8.00" stroke-linecap="round" opacity="0.45" filter="url(#b2_5)"/><path d="M55.58 40.17 L54.68 42.51 L53.53 44.75 L52.17 46.86 L50.59 48.81 L48.81 50.59 L46.86 52.17 L44.75 53.53 L42.51 54.68 L40.17 55.58 L37.74 56.23" fill="none" stroke="#d05050" stroke-width="8.00" stroke-linecap="round" opacity="0.45" filter="url(#b2_5)"/><path d="M15.93 27.93 L16.55 26.14 L17.36 24.43 L18.35 22.81 L19.50 21.32 L20.82 19.95 L22.27 18.74 L23.84 17.69 L25.52 16.81 L27.28 16.13 L29.11 15.63" fill="none" stroke="#c8363a" stroke-width="8.50" stroke-linecap="round" opacity="1.00" filter="url(#b1_8)"/><path d="M36.98 15.77 L38.74 16.31 L40.42 17.02 L42.02 17.91 L43.52 18.96 L44.91 20.16 L46.16 21.50 L47.26 22.96 L48.20 24.53 L48.98 26.19 L49.57 27.93" fill="none" stroke="#2a6db4" stroke-width="8.50" stroke-linecap="round" opacity="1.00" filter="url(#b1_8)"/><path d="M29.71 49.98 L27.87 49.56 L26.08 48.93 L24.37 48.11 L22.76 47.12 L21.27 45.96 L19.91 44.64 L18.70 43.18 L17.66 41.61 L16.79 39.92 L16.11 38.16" fill="none" stroke="#2c6eb5" stroke-width="8.50" stroke-linecap="round" opacity="1.00" filter="url(#b1_8)"/><path d="M49.57 37.57 L48.95 39.36 L48.14 41.07 L47.15 42.69 L46.00 44.18 L44.68 45.55 L43.23 46.76 L41.66 47.81 L39.98 48.69 L38.22 49.37 L36.39 49.87" fill="none" stroke="#c83a3a" stroke-width="8.50" stroke-linecap="round" opacity="1.00" filter="url(#b1_8)"/><ellipse cx="32.75" cy="32.75" rx="16.50" ry="11.50" transform="rotate(0.0 32.75 32.75)" fill="#fafafa" opacity="1.00" filter="url(#b1_2)"/><ellipse cx="32.75" cy="32.75" rx="14.00" ry="9.00" transform="rotate(0.0 32.75 32.75)" fill="#c0dcef" opacity="1.00" filter="url(#b1_5)"/><ellipse cx="27.50" cy="28.50" rx="3.00" ry="2.50" transform="rotate(0.0 27.50 28.50)" fill="#f3c4b0" opacity="1.00" filter="url(#b1)"/><ellipse cx="22.50" cy="36.00" rx="3.00" ry="2.50" transform="rotate(0.0 22.50 36.00)" fill="#f3c4b0" opacity="1.00" filter="url(#b1)"/><ellipse cx="37.50" cy="28.50" rx="2.50" ry="2.50" transform="rotate(0.0 37.50 28.50)" fill="#8fbce0" opacity="1.00" filter="url(#b1)"/><ellipse cx="31.00" cy="37.00" rx="2.50" ry="2.50" transform="rotate(0.0 31.00 37.00)" fill="#8fbce0" opacity="1.00" filter="url(#b1)"/><ellipse cx="32.75" cy="32.75" rx="2.00" ry="2.00" transform="rotate(0.0 32.75 32.75)" fill="#f8f8f8" opacity="1.00" filter="url(#b1)"/></g><rect width="66" height="66" fill="#999" filter="url(#n4)" mask="url(#m11)"/></g><rect x="0.65" y="0.65" width="64.20" height="64.20" fill="none" stroke="#111" stroke-width="1.4"/></g><clipPath id="cp013"><rect x="0" y="0" width="65.50" height="65.50"/></clipPath><g transform="translate(261.00 134.00)"><g clip-path="url(#cp013)"><rect width="66" height="66" fill="#999" filter="url(#n5)"/><g clip-path="url(#dp013)"><circle cx="32.75" cy="32.75" r="29.00" fill="#f2f6f9"/><circle cx="32.75" cy="32.75" r="22.00" fill="none" stroke="#c8def0" stroke-width="5.00" opacity="0.60" filter="url(#b2_5)"/><ellipse cx="13.00" cy="45.00" rx="5.00" ry="7.00" transform="rotate(0.0 13.00 45.00)" fill="#f2d2c4" opacity="0.50" filter="url(#b3)"/><circle cx="32.75" cy="32.75" r="12.00" fill="none" stroke="#d4e6f3" stroke-width="13.00" opacity="0.50" filter="url(#b2_5)"/><path d="M20.68 29.51 L21.08 28.27 L21.61 27.08 L22.27 25.94 L23.04 24.88 L23.91 23.91 L24.88 23.04 L25.94 22.27 L27.08 21.61 L28.27 21.08 L29.51 20.68" fill="none" stroke="#2a6ab2" stroke-width="11.00" stroke-linecap="butt" opacity="1.00" filter="url(#b1_4)"/><path d="M35.99 20.68 L37.23 21.08 L38.42 21.61 L39.56 22.27 L40.62 23.04 L41.59 23.91 L42.46 24.88 L43.23 25.94 L43.89 27.08 L44.42 28.27 L44.82 29.51" fill="none" stroke="#c0303a" stroke-width="11.00" stroke-linecap="butt" opacity="1.00" filter="url(#b1_4)"/><path d="M29.51 44.82 L28.27 44.42 L27.08 43.89 L25.94 43.23 L24.88 42.46 L23.91 41.59 L23.04 40.62 L22.27 39.56 L21.61 38.42 L21.08 37.23 L20.68 35.99" fill="none" stroke="#c02a33" stroke-width="11.00" stroke-linecap="butt" opacity="1.00" filter="url(#b1_4)"/><path d="M44.82 35.99 L44.42 37.23 L43.89 38.42 L43.23 39.56 L42.46 40.62 L41.59 41.59 L40.62 42.46 L39.56 43.23 L38.42 43.89 L37.23 44.42 L35.99 44.82" fill="none" stroke="#2a6ab3" stroke-width="11.00" stroke-linecap="butt" opacity="1.00" filter="url(#b1_4)"/><circle cx="32.75" cy="32.75" r="5.00" fill="#f4f6f8" opacity="1.00" filter="url(#b1_2)"/></g><rect width="66" height="66" fill="#999" filter="url(#n5)" mask="url(#m13)"/></g><rect x="0.65" y="0.65" width="64.20" height="64.20" fill="none" stroke="#111" stroke-width="1.4"/></g><clipPath id="cp020"><rect x="0" y="0" width="65.50" height="65.50"/></clipPath><g transform="translate(40.00 222.00)"><g clip-path="url(#cp020)"><rect width="66" height="66" fill="#24397c"/><circle cx="32.75" cy="32.75" r="26.00" fill="url(#rg15)"/><circle cx="32.50" cy="32.00" r="10.20" fill="none" stroke="#4c9cd8" stroke-width="3.50" opacity="0.95" filter="url(#b1_2)"/><circle cx="32.50" cy="32.00" r="17.00" fill="none" stroke="#2f80c8" stroke-width="2.50" opacity="0.40" filter="url(#b2)"/><circle cx="32.50" cy="32.00" r="6.50" fill="#1f6cc0" opacity="1.00" filter="url(#b1_3)"/><circle cx="32.50" cy="31.20" r="3.80" fill="#a8d4f2" opacity="1.00" filter="url(#b1_4)"/><circle cx="32.50" cy="31.20" r="2.40" fill="#ffffff" opacity="1.00" filter="url(#b0_7)"/><circle cx="32.6" cy="32.8" r="29.6" fill="none" stroke="#d4e0f2" stroke-width="0.95" stroke-dasharray="2.6 2.5"/><text x="32.60" y="58.3" font-size="11.4" letter-spacing="0.1" text-anchor="middle" fill="#f4f6fa" stroke="#f4f6fa" stroke-width="0.25" font-family="Liberation Sans, sans-serif">cir. right</text></g><rect x="0.65" y="0.65" width="64.20" height="64.20" fill="none" stroke="#111" stroke-width="1.4"/></g><clipPath id="cp021"><rect x="0" y="0" width="65.50" height="65.50"/></clipPath><g transform="translate(113.00 222.00)"><g clip-path="url(#cp021)"><rect width="66" height="66" fill="#999" filter="url(#n6)"/><g clip-path="url(#dp021)"><circle cx="32.75" cy="32.75" r="29.00" fill="#f4f0f0"/><path d="M39.05 4.85 C37.25 4.85 31.45 4.25 28.25 4.85 C25.05 5.45 21.79 6.55 19.85 8.45 C17.91 10.35 17.05 13.55 16.61 16.25 C16.17 18.95 16.07 22.25 17.21 24.65 C18.35 27.05 22.41 29.65 23.45 30.65" fill="none" stroke="#eea48c" stroke-width="14.00" stroke-linecap="round" stroke-linejoin="round" opacity="0.55" filter="url(#b3)"/><path d="M26.45 60.65 C28.25 60.65 34.05 61.25 37.25 60.65 C40.45 60.05 43.71 58.95 45.65 57.05 C47.59 55.15 48.45 51.95 48.89 49.25 C49.33 46.55 49.43 43.25 48.29 40.85 C47.15 38.45 43.09 35.85 42.05 34.85" fill="none" stroke="#eea48c" stroke-width="14.00" stroke-linecap="round" stroke-linejoin="round" opacity="0.55" filter="url(#b3)"/><path d="M4.85 29.45 C5.15 30.95 5.35 35.85 6.65 38.45 C7.95 41.05 10.05 43.65 12.65 45.05 C15.25 46.45 19.35 47.45 22.25 46.85 C25.15 46.25 28.75 42.35 30.05 41.45" fill="none" stroke="#94bfe2" stroke-width="14.00" stroke-linecap="round" stroke-linejoin="round" opacity="0.55" filter="url(#b3)"/><path d="M60.65 36.05 C60.35 34.55 60.15 29.65 58.85 27.05 C57.55 24.45 55.45 21.85 52.85 20.45 C50.25 19.05 46.15 18.05 43.25 18.65 C40.35 19.25 36.75 23.15 35.45 24.05" fill="none" stroke="#94bfe2" stroke-width="14.00" stroke-linecap="round" stroke-linejoin="round" opacity="0.55" filter="url(#b3)"/><path d="M38.00 9.50 C36.50 9.50 31.67 9.00 29.00 9.50 C26.33 10.00 23.62 10.92 22.00 12.50 C20.38 14.08 19.67 16.75 19.30 19.00 C18.93 21.25 18.85 24.00 19.80 26.00 C20.75 28.00 24.13 30.17 25.00 31.00" fill="none" stroke="#c22a30" stroke-width="8.00" stroke-linecap="round" stroke-linejoin="round" opacity="1.00" filter="url(#b1_5)"/><path d="M27.50 56.00 C29.00 56.00 33.83 56.50 36.50 56.00 C39.17 55.50 41.88 54.58 43.50 53.00 C45.12 51.42 45.83 48.75 46.20 46.50 C46.57 44.25 46.65 41.50 45.70 39.50 C44.75 37.50 41.37 35.33 40.50 34.50" fill="none" stroke="#c22a30" stroke-width="8.00" stroke-linecap="round" stroke-linejoin="round" opacity="1.00" filter="url(#b1_5)"/><path d="M9.50 30.00 C9.75 31.25 9.92 35.33 11.00 37.50 C12.08 39.67 13.83 41.83 16.00 43.00 C18.17 44.17 21.58 45.00 24.00 44.50 C26.42 44.00 29.42 40.75 30.50 40.00" fill="none" stroke="#2b6cb4" stroke-width="8.00" stroke-linecap="round" stroke-linejoin="round" opacity="1.00" filter="url(#b1_5)"/><path d="M56.00 35.50 C55.75 34.25 55.58 30.17 54.50 28.00 C53.42 25.83 51.67 23.67 49.50 22.50 C47.33 21.33 43.92 20.50 41.50 21.00 C39.08 21.50 36.08 24.75 35.00 25.50" fill="none" stroke="#2b6cb4" stroke-width="8.00" stroke-linecap="round" stroke-linejoin="round" opacity="1.00" filter="url(#b1_5)"/><circle cx="32.75" cy="32.75" r="4.00" fill="#f6f2f2" opacity="1.00" filter="url(#b1_5)"/><ellipse cx="30.00" cy="36.00" rx="2.00" ry="1.50" transform="rotate(0.0 30.00 36.00)" fill="#eba08a" opacity="1.00" filter="url(#b1)"/><ellipse cx="36.00" cy="30.00" rx="2.00" ry="1.50" transform="rotate(0.0 36.00 30.00)" fill="#9cc4e4" opacity="1.00" filter="url(#b1)"/></g><rect width="66" height="66" fill="#999" filter="url(#n6)" mask="url(#m16)"/></g><rect x="0.65" y="0.65" width="64.20" height="64.20" fill="none" stroke="#111" stroke-width="1.4"/></g><clipPath id="cp022"><rect x="0" y="0" width="65.50" height="65.50"/></clipPath><g transform="translate(187.00 222.00)"><g clip-path="url(#cp022)"><rect width="66" height="66" fill="#999" filter="url(#n7)"/><g clip-path="url(#dp022)"><circle cx="32.75" cy="32.75" r="29.00" fill="#f4f0f0"/><path d="M24.65 7.25 C23.35 8.05 18.89 9.55 16.85 12.05 C14.81 14.55 13.07 18.85 12.41 22.25 C11.75 25.65 12.05 29.75 12.89 32.45 C13.73 35.15 15.49 37.75 17.45 38.45 C19.41 39.15 23.45 36.95 24.65 36.65" fill="none" stroke="#eea48c" stroke-width="14.00" stroke-linecap="round" stroke-linejoin="round" opacity="0.55" filter="url(#b3)"/><path d="M40.85 58.25 C42.15 57.45 46.61 55.95 48.65 53.45 C50.69 50.95 52.43 46.65 53.09 43.25 C53.75 39.85 53.45 35.75 52.61 33.05 C51.77 30.35 50.01 27.75 48.05 27.05 C46.09 26.35 42.05 28.55 40.85 28.85" fill="none" stroke="#eea48c" stroke-width="14.00" stroke-linecap="round" stroke-linejoin="round" opacity="0.55" filter="url(#b3)"/><path d="M23.45 18.05 C24.25 16.95 25.85 12.99 28.25 11.45 C30.65 9.91 34.65 8.91 37.85 8.81 C41.05 8.71 44.75 9.31 47.45 10.85 C50.15 12.39 52.95 16.85 54.05 18.05" fill="none" stroke="#94bfe2" stroke-width="14.00" stroke-linecap="round" stroke-linejoin="round" opacity="0.55" filter="url(#b3)"/><path d="M42.05 47.45 C41.25 48.55 39.65 52.51 37.25 54.05 C34.85 55.59 30.85 56.59 27.65 56.69 C24.45 56.79 20.75 56.19 18.05 54.65 C15.35 53.11 12.55 48.65 11.45 47.45" fill="none" stroke="#94bfe2" stroke-width="14.00" stroke-linecap="round" stroke-linejoin="round" opacity="0.55" filter="url(#b3)"/><path d="M26.00 11.50 C24.92 12.17 21.20 13.42 19.50 15.50 C17.80 17.58 16.35 21.17 15.80 24.00 C15.25 26.83 15.50 30.25 16.20 32.50 C16.90 34.75 18.37 36.92 20.00 37.50 C21.63 38.08 25.00 36.25 26.00 36.00" fill="none" stroke="#b82530" stroke-width="8.00" stroke-linecap="round" stroke-linejoin="round" opacity="1.00" filter="url(#b1_5)"/><path d="M39.50 54.00 C40.58 53.33 44.30 52.08 46.00 50.00 C47.70 47.92 49.15 44.33 49.70 41.50 C50.25 38.67 50.00 35.25 49.30 33.00 C48.60 30.75 47.13 28.58 45.50 28.00 C43.87 27.42 40.50 29.25 39.50 29.50" fill="none" stroke="#b82530" stroke-width="8.00" stroke-linecap="round" stroke-linejoin="round" opacity="1.00" filter="url(#b1_5)"/><path d="M25.00 20.50 C25.67 19.58 27.00 16.28 29.00 15.00 C31.00 13.72 34.33 12.88 37.00 12.80 C39.67 12.72 42.75 13.22 45.00 14.50 C47.25 15.78 49.58 19.50 50.50 20.50" fill="none" stroke="#2b6cb4" stroke-width="8.00" stroke-linecap="round" stroke-linejoin="round" opacity="1.00" filter="url(#b1_5)"/><path d="M40.50 45.00 C39.83 45.92 38.50 49.22 36.50 50.50 C34.50 51.78 31.17 52.62 28.50 52.70 C25.83 52.78 22.75 52.28 20.50 51.00 C18.25 49.72 15.92 46.00 15.00 45.00" fill="none" stroke="#2b6cb4" stroke-width="8.00" stroke-linecap="round" stroke-linejoin="round" opacity="1.00" filter="url(#b1_5)"/><circle cx="32.75" cy="32.75" r="3.50" fill="#f6f2f2" opacity="1.00" filter="url(#b1_5)"/></g><rect width="66" height="66" fill="#999" filter="url(#n7)" mask="url(#m18)"/></g><rect x="0.65" y="0.65" width="64.20" height="64.20" fill="none" stroke="#111" stroke-width="1.4"/></g><clipPath id="cp023"><rect x="0" y="0" width="65.50" height="65.50"/></clipPath><g transform="translate(261.00 222.00)"><g clip-path="url(#cp023)"><rect width="66" height="66" fill="#999" filter="url(#n8)"/><g clip-path="url(#dp023)"><circle cx="32.75" cy="32.75" r="29.50" fill="#bb2a30"/><circle cx="32.75" cy="32.75" r="22.00" fill="none" stroke="#c43a3a" stroke-width="6.00" opacity="0.70" filter="url(#b2_5)"/><circle cx="33.00" cy="33.50" r="15.00" fill="none" stroke="#f2b49c" stroke-width="5.00" opacity="1.00" filter="url(#b1_6)"/><path d="M21.51 43.14 L20.54 41.85 L19.72 40.47 L19.05 39.01 L18.54 37.48 L18.19 35.91 L18.02 34.31 L18.02 32.69 L18.19 31.09 L18.54 29.52 L19.05 27.99 L19.72 26.53 L20.54 25.15 L21.51 23.86" fill="none" stroke="#fbf6f4" stroke-width="4.50" stroke-linecap="round" opacity="1.00" filter="url(#b1_6)"/><path d="M44.49 23.86 L45.46 25.15 L46.28 26.53 L46.95 27.99 L47.46 29.52 L47.81 31.09 L47.98 32.69 L47.98 34.31 L47.81 35.91 L47.46 37.48 L46.95 39.01 L46.28 40.47 L45.46 41.85 L44.49 43.14" fill="none" stroke="#f8d8c8" stroke-width="3.50" stroke-linecap="round" opacity="0.70" filter="url(#b1_6)"/><circle cx="33.00" cy="33.50" r="11.00" fill="#bc2a34" opacity="1.00" filter="url(#b1_5)"/><circle cx="33.50" cy="34.00" r="7.00" fill="#8c1222" opacity="1.00" filter="url(#b2)"/><path d="M37.33 30.79 L37.65 31.21 L37.92 31.66 L38.14 32.14 L38.31 32.64 L38.43 33.16 L38.49 33.68 L38.50 34.21 L38.45 34.74 L38.34 35.26 L38.18 35.76 L37.97 36.24 L37.71 36.70 L37.40 37.13 L37.04 37.53 L36.65 37.88 L36.23 38.19 L35.77 38.46 L35.28 38.67 L34.78 38.83 L34.26 38.94 L33.74 38.99 L33.21 38.99 L32.68 38.93 L32.17 38.82 L31.67 38.65 L31.19 38.43 L30.73 38.16 L30.31 37.85 L29.92 37.49 L29.57 37.09 L29.27 36.66 L29.01 36.20 L28.80 35.71" fill="none" stroke="#b83038" stroke-width="1.30" stroke-linecap="round" opacity="0.70" filter="url(#b0_8)"/></g><rect width="66" height="66" fill="#999" filter="url(#n8)" mask="url(#m20)"/></g><rect x="0.65" y="0.65" width="64.20" height="64.20" fill="none" stroke="#111" stroke-width="1.4"/></g><clipPath id="cp030"><rect x="0" y="0" width="65.50" height="65.50"/></clipPath><g transform="translate(40.00 310.00)"><g clip-path="url(#cp030)"><rect width="66" height="66" fill="#24397c"/><circle cx="32.75" cy="32.75" r="27.00" fill="url(#rg22)"/><circle cx="32.00" cy="31.80" r="10.50" fill="none" stroke="#52a2dc" stroke-width="6.50" opacity="0.95" filter="url(#b1_6)"/><path d="M22.13 28.21 L22.57 27.18 L23.11 26.21 L23.76 25.30 L24.49 24.46 L25.31 23.71 L26.21 23.04 L27.17 22.48 L28.19 22.02 L29.24 21.67 L30.33 21.43 L31.44 21.31 L32.56 21.31 L33.67 21.43 L34.76 21.67 L35.81 22.02 L36.83 22.48 L37.79 23.04 L38.69 23.71 L39.51 24.46 L40.24 25.30 L40.89 26.21 L41.43 27.18 L41.87 28.21" fill="none" stroke="#86c2ea" stroke-width="3.50" stroke-linecap="round" opacity="0.80" filter="url(#b1_3)"/><circle cx="32.00" cy="31.80" r="17.50" fill="none" stroke="#2f80c8" stroke-width="2.50" opacity="0.50" filter="url(#b2)"/><circle cx="32.00" cy="32.00" r="6.00" fill="#3080cc" opacity="1.00" filter="url(#b1_3)"/><circle cx="32.00" cy="32.30" r="4.00" fill="#b8dcf4" opacity="1.00" filter="url(#b1_4)"/><circle cx="32.00" cy="32.30" r="2.50" fill="#ffffff" opacity="1.00" filter="url(#b0_7)"/><circle cx="32.6" cy="32.8" r="29.6" fill="none" stroke="#d4e0f2" stroke-width="0.95" stroke-dasharray="2.6 2.5"/><text x="32.60" y="58.3" font-size="11.4" letter-spacing="0.1" text-anchor="middle" fill="#f4f6fa" stroke="#f4f6fa" stroke-width="0.25" font-family="Liberation Sans, sans-serif">cir. left</text></g><rect x="0.65" y="0.65" width="64.20" height="64.20" fill="none" stroke="#111" stroke-width="1.4"/></g><clipPath id="cp031"><rect x="0" y="0" width="65.50" height="65.50"/></clipPath><g transform="translate(113.00 310.00)"><g clip-path="url(#cp031)"><rect width="66" height="66" fill="#999" filter="url(#n9)"/><g clip-path="url(#dp031)"><circle cx="32.75" cy="32.75" r="29.00" fill="#f4f0f0"/><path d="M26.45 4.85 C28.25 4.85 34.05 4.25 37.25 4.85 C40.45 5.45 43.71 6.55 45.65 8.45 C47.59 10.35 48.45 13.55 48.89 16.25 C49.33 18.95 49.43 22.25 48.29 24.65 C47.15 27.05 43.09 29.65 42.05 30.65" fill="none" stroke="#eea48c" stroke-width="16.00" stroke-linecap="round" stroke-linejoin="round" opacity="0.65" filter="url(#b3)"/><path d="M39.05 60.65 C37.25 60.65 31.45 61.25 28.25 60.65 C25.05 60.05 21.79 58.95 19.85 57.05 C17.91 55.15 17.05 51.95 16.61 49.25 C16.17 46.55 16.07 43.25 17.21 40.85 C18.35 38.45 22.41 35.85 23.45 34.85" fill="none" stroke="#eea48c" stroke-width="16.00" stroke-linecap="round" stroke-linejoin="round" opacity="0.65" filter="url(#b3)"/><path d="M60.65 29.45 C60.35 30.95 60.15 35.85 58.85 38.45 C57.55 41.05 55.45 43.65 52.85 45.05 C50.25 46.45 46.15 47.45 43.25 46.85 C40.35 46.25 36.75 42.35 35.45 41.45" fill="none" stroke="#94bfe2" stroke-width="16.00" stroke-linecap="round" stroke-linejoin="round" opacity="0.65" filter="url(#b3)"/><path d="M4.85 36.05 C5.15 34.55 5.35 29.65 6.65 27.05 C7.95 24.45 10.05 21.85 12.65 20.45 C15.25 19.05 19.35 18.05 22.25 18.65 C25.15 19.25 28.75 23.15 30.05 24.05" fill="none" stroke="#94bfe2" stroke-width="16.00" stroke-linecap="round" stroke-linejoin="round" opacity="0.65" filter="url(#b3)"/><path d="M27.50 9.50 C29.00 9.50 33.83 9.00 36.50 9.50 C39.17 10.00 41.88 10.92 43.50 12.50 C45.12 14.08 45.83 16.75 46.20 19.00 C46.57 21.25 46.65 24.00 45.70 26.00 C44.75 28.00 41.37 30.17 40.50 31.00" fill="none" stroke="#c22a30" stroke-width="10.00" stroke-linecap="round" stroke-linejoin="round" opacity="1.00" filter="url(#b1_5)"/><path d="M38.00 56.00 C36.50 56.00 31.67 56.50 29.00 56.00 C26.33 55.50 23.62 54.58 22.00 53.00 C20.38 51.42 19.67 48.75 19.30 46.50 C18.93 44.25 18.85 41.50 19.80 39.50 C20.75 37.50 24.13 35.33 25.00 34.50" fill="none" stroke="#c22a30" stroke-width="10.00" stroke-linecap="round" stroke-linejoin="round" opacity="1.00" filter="url(#b1_5)"/><path d="M56.00 30.00 C55.75 31.25 55.58 35.33 54.50 37.50 C53.42 39.67 51.67 41.83 49.50 43.00 C47.33 44.17 43.92 45.00 41.50 44.50 C39.08 44.00 36.08 40.75 35.00 40.00" fill="none" stroke="#2b6cb4" stroke-width="10.00" stroke-linecap="round" stroke-linejoin="round" opacity="1.00" filter="url(#b1_5)"/><path d="M9.50 35.50 C9.75 34.25 9.92 30.17 11.00 28.00 C12.08 25.83 13.83 23.67 16.00 22.50 C18.17 21.33 21.58 20.50 24.00 21.00 C26.42 21.50 29.42 24.75 30.50 25.50" fill="none" stroke="#2b6cb4" stroke-width="10.00" stroke-linecap="round" stroke-linejoin="round" opacity="1.00" filter="url(#b1_5)"/><circle cx="32.75" cy="32.75" r="4.00" fill="#f6f2f2" opacity="1.00" filter="url(#b1_5)"/></g><rect width="66" height="66" fill="#999" filter="url(#n9)" mask="url(#m23)"/></g><rect x="0.65" y="0.65" width="64.20" height="64.20" fill="none" stroke="#111" stroke-width="1.4"/></g><clipPath id="cp032"><rect x="0" y="0" width="65.50" height="65.50"/></clipPath><g transform="translate(187.00 310.00)"><g clip-path="url(#cp032)"><rect width="66" height="66" fill="#999" filter="url(#n10)"/><g clip-path="url(#dp032)"><circle cx="32.75" cy="32.75" r="29.00" fill="#f4f0f0"/><path d="M11.45 19.85 C12.45 18.55 14.85 13.85 17.45 12.05 C20.05 10.25 23.85 9.25 27.05 9.05 C30.25 8.85 34.35 9.55 36.65 10.85 C38.95 12.15 40.65 14.85 40.85 16.85 C41.05 18.85 38.35 21.85 37.85 22.85" fill="none" stroke="#eea48c" stroke-width="15.00" stroke-linecap="round" stroke-linejoin="round" opacity="0.60" filter="url(#b3)"/><path d="M54.05 45.65 C53.05 46.95 50.65 51.65 48.05 53.45 C45.45 55.25 41.65 56.25 38.45 56.45 C35.25 56.65 31.15 55.95 28.85 54.65 C26.55 53.35 24.85 50.65 24.65 48.65 C24.45 46.65 27.15 43.65 27.65 42.65" fill="none" stroke="#eea48c" stroke-width="15.00" stroke-linecap="round" stroke-linejoin="round" opacity="0.60" filter="url(#b3)"/><path d="M40.25 4.25 C41.75 5.25 47.05 7.65 49.25 10.25 C51.45 12.85 52.85 16.45 53.45 19.85 C54.05 23.25 53.85 27.55 52.85 30.65 C51.85 33.75 49.55 36.85 47.45 38.45 C45.35 40.05 41.45 39.95 40.25 40.25" fill="none" stroke="#94bfe2" stroke-width="15.00" stroke-linecap="round" stroke-linejoin="round" opacity="0.60" filter="url(#b3)"/><path d="M25.25 61.25 C23.75 60.25 18.45 57.85 16.25 55.25 C14.05 52.65 12.65 49.05 12.05 45.65 C11.45 42.25 11.65 37.95 12.65 34.85 C13.65 31.75 15.95 28.65 18.05 27.05 C20.15 25.45 24.05 25.55 25.25 25.25" fill="none" stroke="#94bfe2" stroke-width="15.00" stroke-linecap="round" stroke-linejoin="round" opacity="0.60" filter="url(#b3)"/><path d="M15.00 22.00 C15.83 20.92 17.83 17.00 20.00 15.50 C22.17 14.00 25.33 13.17 28.00 13.00 C30.67 12.83 34.08 13.42 36.00 14.50 C37.92 15.58 39.33 17.83 39.50 19.50 C39.67 21.17 37.42 23.67 37.00 24.50" fill="none" stroke="#c22a30" stroke-width="8.50" stroke-linecap="round" stroke-linejoin="round" opacity="1.00" filter="url(#b1_5)"/><path d="M50.50 43.50 C49.67 44.58 47.67 48.50 45.50 50.00 C43.33 51.50 40.17 52.33 37.50 52.50 C34.83 52.67 31.42 52.08 29.50 51.00 C27.58 49.92 26.17 47.67 26.00 46.00 C25.83 44.33 28.08 41.83 28.50 41.00" fill="none" stroke="#c22a30" stroke-width="8.50" stroke-linecap="round" stroke-linejoin="round" opacity="1.00" filter="url(#b1_5)"/><path d="M39.00 9.00 C40.25 9.83 44.67 11.83 46.50 14.00 C48.33 16.17 49.50 19.17 50.00 22.00 C50.50 24.83 50.33 28.42 49.50 31.00 C48.67 33.58 46.75 36.17 45.00 37.50 C43.25 38.83 40.00 38.75 39.00 39.00" fill="none" stroke="#2b6cb4" stroke-width="8.50" stroke-linecap="round" stroke-linejoin="round" opacity="1.00" filter="url(#b1_5)"/><path d="M26.50 56.50 C25.25 55.67 20.83 53.67 19.00 51.50 C17.17 49.33 16.00 46.33 15.50 43.50 C15.00 40.67 15.17 37.08 16.00 34.50 C16.83 31.92 18.75 29.33 20.50 28.00 C22.25 26.67 25.50 26.75 26.50 26.50" fill="none" stroke="#2b6cb4" stroke-width="8.50" stroke-linecap="round" stroke-linejoin="round" opacity="1.00" filter="url(#b1_5)"/><circle cx="32.75" cy="32.75" r="3.50" fill="#f6f2f2" opacity="1.00" filter="url(#b1_5)"/></g><rect width="66" height="66" fill="#999" filter="url(#n10)" mask="url(#m25)"/></g><rect x="0.65" y="0.65" width="64.20" height="64.20" fill="none" stroke="#111" stroke-width="1.4"/></g><clipPath id="cp033"><rect x="0" y="0" width="65.50" height="65.50"/></clipPath><g transform="translate(261.00 310.00)"><g clip-path="url(#cp033)"><rect width="66" height="66" fill="#999" filter="url(#n11)"/><g clip-path="url(#dp033)"><circle cx="32.75" cy="32.75" r="29.50" fill="#2f6fb5"/><circle cx="32.75" cy="32.75" r="23.00" fill="none" stroke="#4f8cc8" stroke-width="4.00" opacity="0.70" filter="url(#b2_5)"/><ellipse cx="33.50" cy="31.50" rx="16.00" ry="15.00" transform="rotate(-20.0 33.50 31.50)" fill="none" stroke="#eef4f8" stroke-width="4.50" opacity="1.00" filter="url(#b1_3)"/><path d="M49.44 30.11 L49.50 31.85 L49.36 33.59 L49.04 35.30 L48.54 36.97 L47.85 38.58 L46.99 40.10 L45.98 41.51 L44.81 42.81" fill="none" stroke="#f0c0a8" stroke-width="3.50" stroke-linecap="round" opacity="0.80" filter="url(#b1_5)"/><ellipse cx="33.50" cy="31.50" rx="12.00" ry="11.00" transform="rotate(-20.0 33.50 31.50)" fill="#2a64ad" opacity="1.00" filter="url(#b1_5)"/><path d="M28 26 Q34 22 37 28 Q38 33 32 35 Q27 37 30 42" fill="none" stroke="#163f85" stroke-width="3.50" stroke-linecap="round" stroke-linejoin="round" opacity="0.90" filter="url(#b1_5)"/></g><rect width="66" height="66" fill="#999" filter="url(#n11)" mask="url(#m27)"/></g><rect x="0.65" y="0.65" width="64.20" height="64.20" fill="none" stroke="#111" stroke-width="1.4"/></g><clipPath id="cp100"><rect x="0" y="0" width="65.50" height="65.50"/></clipPath><g transform="translate(395.00 46.00)"><g clip-path="url(#cp100)"><rect width="66" height="66" fill="#24397c"/><circle cx="32.75" cy="32.75" r="29.50" fill="url(#rg29)"/><ellipse cx="32.00" cy="21.50" rx="12.00" ry="3.50" transform="rotate(0.0 32.00 21.50)" fill="#3f8ad0" opacity="0.80" filter="url(#b2_2)"/><ellipse cx="32.00" cy="42.00" rx="12.00" ry="3.50" transform="rotate(0.0 32.00 42.00)" fill="#3f8ad0" opacity="0.60" filter="url(#b2_2)"/><circle cx="19.70" cy="30.00" r="3.20" fill="#1a4d9a" opacity="0.70" filter="url(#b2)"/><circle cx="44.40" cy="29.60" r="3.20" fill="#1a4d9a" opacity="0.70" filter="url(#b2)"/><ellipse cx="32.00" cy="31.00" rx="5.00" ry="4.20" transform="rotate(0.0 32.00 31.00)" fill="none" stroke="#8cc4ec" stroke-width="2.40" opacity="0.90" filter="url(#b1)"/><path d="M36.70 32.71 L36.49 33.20 L36.23 33.66 L35.93 34.10 L35.58 34.50 L35.18 34.85 L34.76 35.17 L34.30 35.44 L33.82 35.66 L33.31 35.82 L32.79 35.94 L32.27 35.99 L31.73 35.99 L31.21 35.94 L30.69 35.82 L30.18 35.66 L29.70 35.44 L29.24 35.17 L28.82 34.85 L28.42 34.50 L28.07 34.10 L27.77 33.66 L27.51 33.20 L27.30 32.71" fill="none" stroke="#f4faff" stroke-width="2.40" stroke-linecap="round" opacity="1.00" filter="url(#b0_9)"/><ellipse cx="32.00" cy="30.60" rx="2.80" ry="1.80" transform="rotate(0.0 32.00 30.60)" fill="#1a4f9a" opacity="1.00" filter="url(#b0_8)"/><circle cx="32.6" cy="32.8" r="29.6" fill="none" stroke="#d4e0f2" stroke-width="0.95" stroke-dasharray="2.6 2.5"/><text x="32.60" y="58.3" font-size="11.4" letter-spacing="0.1" text-anchor="middle" fill="#f4f6fa" stroke="#f4f6fa" stroke-width="0.25" font-family="Liberation Sans, sans-serif">vertical</text></g><rect x="0.65" y="0.65" width="64.20" height="64.20" fill="none" stroke="#111" stroke-width="1.4"/></g><clipPath id="cp101"><rect x="0" y="0" width="65.50" height="65.50"/></clipPath><g transform="translate(468.00 46.00)"><g clip-path="url(#cp101)"><rect width="66" height="66" fill="#999" filter="url(#n12)"/><g clip-path="url(#dp101)"><circle cx="32.75" cy="32.75" r="30.00" fill="#1d57a3"/><circle cx="32.75" cy="32.75" r="28.00" fill="none" stroke="#1a4890" stroke-width="5.00" opacity="0.60" filter="url(#b2_5)"/><path d="M32.75 32.75 L35.67 29.83 L38.58 26.92 L41.50 24.00 L44.42 21.08 L47.33 18.17 L50.25 15.25 L53.17 12.33 L56.08 9.42 L56.08 9.42 L59.19 13.01 L61.75 17.00 L63.71 21.33 L65.03 25.89 L65.03 25.89 L60.99 26.75 L56.96 27.60 L52.92 28.46 L48.89 29.32 L44.85 30.18 L40.82 31.03 L36.78 31.89 L32.75 32.75Z" fill="url(#rg30)" opacity="0.70" filter="url(#b2_5)"/><path d="M32.75 32.75 L28.72 31.89 L24.68 31.03 L20.65 30.18 L16.61 29.32 L12.58 28.46 L8.54 27.60 L4.51 26.75 L0.47 25.89 L0.47 25.89 L1.79 21.33 L3.75 17.00 L6.31 13.01 L9.42 9.42 L9.42 9.42 L12.33 12.33 L15.25 15.25 L18.17 18.17 L21.08 21.08 L24.00 24.00 L26.92 26.92 L29.83 29.83 L32.75 32.75Z" fill="url(#rg31)" opacity="0.70" filter="url(#b2_5)"/><path d="M32.75 32.75 L36.78 33.61 L40.82 34.47 L44.85 35.32 L48.89 36.18 L52.92 37.04 L56.96 37.90 L60.99 38.75 L65.03 39.61 L65.03 39.61 L63.71 44.17 L61.75 48.50 L59.19 52.49 L56.08 56.08 L56.08 56.08 L53.17 53.17 L50.25 50.25 L47.33 47.33 L44.42 44.42 L41.50 41.50 L38.58 38.58 L35.67 35.67 L32.75 32.75Z" fill="url(#rg32)" opacity="0.60" filter="url(#b2_5)"/><path d="M32.75 32.75 L29.83 35.67 L26.92 38.58 L24.00 41.50 L21.08 44.42 L18.17 47.33 L15.25 50.25 L12.33 53.17 L9.42 56.08 L9.42 56.08 L6.31 52.49 L3.75 48.50 L1.79 44.17 L0.47 39.61 L0.47 39.61 L4.51 38.75 L8.54 37.90 L12.58 37.04 L16.61 36.18 L20.65 35.32 L24.68 34.47 L28.72 33.61 L32.75 32.75Z" fill="url(#rg33)" opacity="0.60" filter="url(#b2_5)"/><ellipse cx="32.75" cy="32.75" rx="4.00" ry="14.00" transform="rotate(0.0 32.75 32.75)" fill="#15408a" opacity="0.80" filter="url(#b2_5)"/><circle cx="32.75" cy="32.75" r="5.50" fill="#163f85" opacity="1.00" filter="url(#b1_5)"/><ellipse cx="24.50" cy="27.50" rx="6.00" ry="4.00" transform="rotate(-35.0 24.50 27.50)" fill="#f4f8fb" opacity="1.00" filter="url(#b1_2)"/><ellipse cx="25.00" cy="27.30" rx="3.50" ry="1.80" transform="rotate(-35.0 25.00 27.30)" fill="#b81c28" opacity="1.00" filter="url(#b0_5)"/><ellipse cx="39.50" cy="25.50" rx="6.00" ry="4.00" transform="rotate(25.0 39.50 25.50)" fill="#f4f8fb" opacity="1.00" filter="url(#b1_2)"/><ellipse cx="39.00" cy="25.80" rx="3.50" ry="1.80" transform="rotate(25.0 39.00 25.80)" fill="#b81c28" opacity="1.00" filter="url(#b0_5)"/><ellipse cx="25.00" cy="37.00" rx="6.00" ry="4.00" transform="rotate(25.0 25.00 37.00)" fill="#f4f8fb" opacity="1.00" filter="url(#b1_2)"/><ellipse cx="25.50" cy="36.80" rx="3.50" ry="1.80" transform="rotate(25.0 25.50 36.80)" fill="#b81c28" opacity="1.00" filter="url(#b0_5)"/><ellipse cx="40.50" cy="36.50" rx="6.00" ry="4.00" transform="rotate(-40.0 40.50 36.50)" fill="#f4f8fb" opacity="1.00" filter="url(#b1_2)"/><ellipse cx="40.00" cy="36.20" rx="3.50" ry="1.80" transform="rotate(-40.0 40.00 36.20)" fill="#b81c28" opacity="1.00" filter="url(#b0_5)"/></g><rect width="66" height="66" fill="#999" filter="url(#n12)" mask="url(#m34)"/></g><rect x="0.65" y="0.65" width="64.20" height="64.20" fill="none" stroke="#111" stroke-width="1.4"/></g><clipPath id="cp102"><rect x="0" y="0" width="65.50" height="65.50"/></clipPath><g transform="translate(542.00 46.00)"><g clip-path="url(#cp102)"><rect width="66" height="66" fill="#999" filter="url(#n13)"/><g clip-path="url(#dp102)"><circle cx="32.75" cy="32.75" r="30.00" fill="#f5f5f5"/><path d="M32.75 32.75 L28.64 32.46 L24.52 32.17 L20.41 31.89 L16.29 31.60 L12.18 31.31 L8.06 31.02 L3.95 30.74 L-0.17 30.45 L-0.17 30.45 L0.47 25.89 L1.74 21.46 L3.61 17.26 L6.05 13.35 L9.01 9.83 L12.43 6.75 L16.25 4.17 L20.39 2.15 L24.77 0.73 L29.30 -0.07 L29.30 -0.07 L29.73 4.03 L30.16 8.14 L30.59 12.24 L31.03 16.34 L31.46 20.44 L31.89 24.55 L32.32 28.65 L32.75 32.75Z" fill="url(#rg36)" opacity="1.00" filter="url(#b1_8)"/><path d="M32.75 32.75 L33.04 28.64 L33.33 24.52 L33.61 20.41 L33.90 16.29 L34.19 12.18 L34.48 8.06 L34.76 3.95 L35.05 -0.17 L35.05 -0.17 L39.86 0.53 L44.52 1.92 L48.92 3.98 L52.97 6.67 L56.58 9.92 L59.67 13.67 L62.18 17.83 L64.05 22.31 L65.25 27.02 L65.25 27.02 L61.19 27.74 L57.12 28.45 L53.06 29.17 L49.00 29.88 L44.94 30.60 L40.87 31.32 L36.81 32.03 L32.75 32.75Z" fill="url(#rg37)" opacity="1.00" filter="url(#b1_8)"/><path d="M32.75 32.75 L36.86 33.04 L40.98 33.33 L45.09 33.61 L49.21 33.90 L53.32 34.19 L57.44 34.48 L61.55 34.76 L65.67 35.05 L65.67 35.05 L65.03 39.61 L63.76 44.04 L61.89 48.24 L59.45 52.15 L56.49 55.67 L53.07 58.75 L49.25 61.33 L45.11 63.35 L40.73 64.77 L36.20 65.57 L36.20 65.57 L35.77 61.47 L35.34 57.36 L34.91 53.26 L34.47 49.16 L34.04 45.06 L33.61 40.95 L33.18 36.85 L32.75 32.75Z" fill="url(#rg38)" opacity="1.00" filter="url(#b1_8)"/><path d="M32.75 32.75 L32.32 36.85 L31.89 40.95 L31.46 45.06 L31.03 49.16 L30.59 53.26 L30.16 57.36 L29.73 61.47 L29.30 65.57 L29.30 65.57 L24.39 64.67 L19.68 63.05 L15.26 60.74 L11.25 57.78 L7.72 54.25 L4.76 50.24 L2.45 45.82 L0.83 41.11 L-0.07 36.20 L-0.07 36.20 L4.03 35.77 L8.14 35.34 L12.24 34.91 L16.34 34.47 L20.44 34.04 L24.55 33.61 L28.65 33.18 L32.75 32.75Z" fill="url(#rg39)" opacity="1.00" filter="url(#b1_8)"/><ellipse cx="32.75" cy="32.75" rx="8.00" ry="5.00" transform="rotate(-15.0 32.75 32.75)" fill="#f7f7f7" opacity="1.00" filter="url(#b1_4)"/><circle cx="25.50" cy="29.50" r="4.50" fill="#fafafa" opacity="1.00" filter="url(#b1)"/><circle cx="39.50" cy="28.50" r="4.50" fill="#fafafa" opacity="1.00" filter="url(#b1)"/><circle cx="25.50" cy="29.50" r="2.30" fill="#2a6cb3" opacity="1.00" filter="url(#b0_6)"/><circle cx="39.50" cy="28.50" r="2.30" fill="#2a6cb3" opacity="1.00" filter="url(#b0_6)"/><circle cx="32.50" cy="32.00" r="1.80" fill="#d04848" opacity="1.00" filter="url(#b0_6)"/><circle cx="23.00" cy="36.00" r="2.00" fill="#c8404a" opacity="0.80" filter="url(#b0_7)"/></g><rect width="66" height="66" fill="#999" filter="url(#n13)" mask="url(#m40)"/></g><rect x="0.65" y="0.65" width="64.20" height="64.20" fill="none" stroke="#111" stroke-width="1.4"/></g><clipPath id="cp103"><rect x="0" y="0" width="65.50" height="65.50"/></clipPath><g transform="translate(616.00 46.00)"><g clip-path="url(#cp103)"><rect width="66" height="66" fill="#999" filter="url(#n14)"/><g clip-path="url(#dp103)"><circle cx="32.75" cy="32.75" r="30.00" fill="#f6d3c2"/><ellipse cx="32.75" cy="32.00" rx="21.00" ry="4.50" transform="rotate(10.0 32.75 32.00)" fill="#e68a74" opacity="0.75" filter="url(#b2_5)"/><ellipse cx="17.50" cy="29.50" rx="7.00" ry="3.20" transform="rotate(10.0 17.50 29.50)" fill="#c83a3a" opacity="0.85" filter="url(#b1_8)"/><ellipse cx="48.00" cy="34.00" rx="7.00" ry="3.20" transform="rotate(10.0 48.00 34.00)" fill="#c83a3a" opacity="0.85" filter="url(#b1_8)"/><path d="M32.75 32.75 L31.20 28.93 L29.66 25.10 L28.11 21.28 L26.57 17.45 L25.02 13.63 L23.48 9.80 L21.93 5.98 L20.39 2.15 L20.39 2.15 L24.77 0.73 L29.30 -0.07 L33.90 -0.23 L38.48 0.25 L42.95 1.37 L42.95 1.37 L41.67 5.29 L40.40 9.21 L39.12 13.13 L37.85 17.06 L36.57 20.98 L35.30 24.90 L34.02 28.83 L32.75 32.75Z" fill="url(#rg42)" opacity="0.60" filter="url(#b2_5)"/><path d="M32.75 32.75 L34.30 36.57 L35.84 40.40 L37.39 44.22 L38.93 48.05 L40.48 51.87 L42.02 55.70 L43.57 59.52 L45.11 63.35 L45.11 63.35 L40.73 64.77 L36.20 65.57 L31.60 65.73 L27.02 65.25 L22.55 64.13 L22.55 64.13 L23.83 60.21 L25.10 56.29 L26.38 52.37 L27.65 48.44 L28.93 44.52 L30.20 40.60 L31.48 36.67 L32.75 32.75Z" fill="url(#rg43)" opacity="0.60" filter="url(#b2_5)"/><path d="M32.75 32.75 L28.87 31.34 L25.00 29.93 L21.12 28.52 L17.25 27.11 L13.37 25.70 L9.49 24.29 L5.62 22.87 L1.74 21.46 L1.74 21.46 L4.17 16.25 L7.47 11.54 L11.54 7.47 L11.54 7.47 L14.19 10.63 L16.84 13.79 L19.49 16.95 L22.14 20.11 L24.80 23.27 L27.45 26.43 L30.10 29.59 L32.75 32.75Z" fill="url(#rg44)" opacity="0.40" filter="url(#b2_5)"/><path d="M32.75 32.75 L36.63 34.16 L40.50 35.57 L44.38 36.98 L48.25 38.39 L52.13 39.80 L56.01 41.21 L59.88 42.63 L63.76 44.04 L63.76 44.04 L61.33 49.25 L58.03 53.96 L53.96 58.03 L53.96 58.03 L51.31 54.87 L48.66 51.71 L46.01 48.55 L43.36 45.39 L40.70 42.23 L38.05 39.07 L35.40 35.91 L32.75 32.75Z" fill="url(#rg45)" opacity="0.40" filter="url(#b2_5)"/><path d="M32 23 Q22 24.5 22 32 Q22.5 37.5 26 39.5" fill="none" stroke="#ffffff" stroke-width="8.00" stroke-linecap="round" stroke-linejoin="round" opacity="1.00" filter="url(#b1_5)"/><path d="M38 23.5 Q44.5 26.5 43 34 Q41 40 33.5 41" fill="none" stroke="#ffffff" stroke-width="8.00" stroke-linecap="round" stroke-linejoin="round" opacity="1.00" filter="url(#b1_5)"/><circle cx="32.50" cy="31.50" r="7.00" fill="#ffffff" opacity="1.00" filter="url(#b1_5)"/><path d="M32 23 Q22 24.5 22 32 Q22.5 37.5 26 39.5" fill="none" stroke="#2a6cb3" stroke-width="3.80" stroke-linecap="round" stroke-linejoin="round" opacity="1.00" filter="url(#b0_8)"/><path d="M38 23.5 Q44.5 26.5 43 34 Q41 40 33.5 41" fill="none" stroke="#2a6cb3" stroke-width="3.80" stroke-linecap="round" stroke-linejoin="round" opacity="1.00" filter="url(#b0_8)"/><ellipse cx="35.50" cy="27.20" rx="2.60" ry="4.00" transform="rotate(35.0 35.50 27.20)" fill="#c0303a" opacity="1.00" filter="url(#b0_8)"/><ellipse cx="28.70" cy="34.20" rx="2.60" ry="4.00" transform="rotate(35.0 28.70 34.20)" fill="#c0303a" opacity="1.00" filter="url(#b0_8)"/></g><rect width="66" height="66" fill="#999" filter="url(#n14)" mask="url(#m46)"/></g><rect x="0.65" y="0.65" width="64.20" height="64.20" fill="none" stroke="#111" stroke-width="1.4"/></g><clipPath id="cp110"><rect x="0" y="0" width="65.50" height="65.50"/></clipPath><g transform="translate(395.00 134.00)"><g clip-path="url(#cp110)"><rect width="66" height="66" fill="#24397c"/><circle cx="32.75" cy="32.75" r="28.00" fill="url(#rg48)"/><circle cx="32.00" cy="18.00" r="5.00" fill="#1c56a4" opacity="0.60" filter="url(#b2_5)"/><circle cx="32.00" cy="46.00" r="5.00" fill="#1c56a4" opacity="0.50" filter="url(#b2_5)"/><path d="M23.70 39.68 L22.92 38.27 L22.31 36.77 L21.86 35.21 L21.59 33.62 L21.50 32.00 L21.59 30.38 L21.86 28.79 L22.31 27.23 L22.92 25.73 L23.70 24.32" fill="none" stroke="#e8f4fc" stroke-width="3.00" stroke-linecap="round" opacity="0.95" filter="url(#b1)"/><path d="M40.80 24.32 L41.58 25.73 L42.19 27.23 L42.64 28.79 L42.91 30.38 L43.00 32.00 L42.91 33.62 L42.64 35.21 L42.19 36.77 L41.58 38.27 L40.80 39.68" fill="none" stroke="#e8f4fc" stroke-width="3.00" stroke-linecap="round" opacity="0.95" filter="url(#b1)"/><path d="M18.33 40.24 L17.53 38.27 L16.96 36.22 L16.62 34.12 L16.50 32.00 L16.62 29.88 L16.96 27.78 L17.53 25.73 L18.33 23.76" fill="none" stroke="#5aa4dc" stroke-width="2.20" stroke-linecap="round" opacity="0.70" filter="url(#b1_2)"/><path d="M46.17 23.76 L46.97 25.73 L47.54 27.78 L47.88 29.88 L48.00 32.00 L47.88 34.12 L47.54 36.22 L46.97 38.27 L46.17 40.24" fill="none" stroke="#5aa4dc" stroke-width="2.20" stroke-linecap="round" opacity="0.70" filter="url(#b1_2)"/><path d="M13.45 40.21 L12.65 37.53 L12.16 34.79 L12.00 32.00 L12.16 29.21 L12.65 26.47 L13.45 23.79" fill="none" stroke="#3a88cc" stroke-width="2.00" stroke-linecap="round" opacity="0.60" filter="url(#b1_4)"/><path d="M51.05 23.79 L51.85 26.47 L52.34 29.21 L52.50 32.00 L52.34 34.79 L51.85 37.53 L51.05 40.21" fill="none" stroke="#3a88cc" stroke-width="2.00" stroke-linecap="round" opacity="0.60" filter="url(#b1_4)"/><ellipse cx="32.30" cy="32.00" rx="4.40" ry="4.20" transform="rotate(0.0 32.30 32.00)" fill="none" stroke="#8cc4ec" stroke-width="2.20" opacity="0.80" filter="url(#b0_9)"/><ellipse cx="28.40" cy="32.00" rx="1.40" ry="3.20" transform="rotate(0.0 28.40 32.00)" fill="#ffffff" opacity="1.00" filter="url(#b0_7)"/><ellipse cx="36.20" cy="32.00" rx="1.40" ry="3.20" transform="rotate(0.0 36.20 32.00)" fill="#ffffff" opacity="1.00" filter="url(#b0_7)"/><ellipse cx="32.30" cy="32.00" rx="2.00" ry="3.00" transform="rotate(0.0 32.30 32.00)" fill="#1a4f9a" opacity="1.00" filter="url(#b0_7)"/><circle cx="32.6" cy="32.8" r="29.6" fill="none" stroke="#d4e0f2" stroke-width="0.95" stroke-dasharray="2.6 2.5"/><text x="32.60" y="58.3" font-size="11.4" letter-spacing="0.1" text-anchor="middle" fill="#f4f6fa" stroke="#f4f6fa" stroke-width="0.25" font-family="Liberation Sans, sans-serif">horizontal</text></g><rect x="0.65" y="0.65" width="64.20" height="64.20" fill="none" stroke="#111" stroke-width="1.4"/></g><clipPath id="cp111"><rect x="0" y="0" width="65.50" height="65.50"/></clipPath><g transform="translate(468.00 134.00)"><g clip-path="url(#cp111)"><rect width="66" height="66" fill="#999" filter="url(#n15)"/><g clip-path="url(#dp111)"><circle cx="32.75" cy="32.75" r="29.00" fill="#b8222a"/><path d="M32.75 32.75 L33.61 28.72 L34.47 24.68 L35.32 20.65 L36.18 16.61 L37.04 12.58 L37.90 8.54 L38.75 4.51 L39.61 0.47 L39.61 0.47 L43.31 1.49 L46.87 2.92 L50.24 4.76 L50.24 4.76 L48.05 8.26 L45.87 11.76 L43.68 15.26 L41.49 18.76 L39.31 22.26 L37.12 25.75 L34.94 29.25 L32.75 32.75Z" fill="url(#rg49)" opacity="0.70" filter="url(#b2)"/><path d="M32.75 32.75 L30.56 29.25 L28.38 25.75 L26.19 22.26 L24.01 18.76 L21.82 15.26 L19.63 11.76 L17.45 8.26 L15.26 4.76 L15.26 4.76 L18.63 2.92 L22.19 1.49 L25.89 0.47 L25.89 0.47 L26.75 4.51 L27.60 8.54 L28.46 12.58 L29.32 16.61 L30.18 20.65 L31.03 24.68 L31.89 28.72 L32.75 32.75Z" fill="url(#rg50)" opacity="0.70" filter="url(#b2)"/><path d="M32.75 32.75 L34.94 36.25 L37.12 39.75 L39.31 43.24 L41.49 46.74 L43.68 50.24 L45.87 53.74 L48.05 57.24 L50.24 60.74 L50.24 60.74 L46.87 62.58 L43.31 64.01 L39.61 65.03 L39.61 65.03 L38.75 60.99 L37.90 56.96 L37.04 52.92 L36.18 48.89 L35.32 44.85 L34.47 40.82 L33.61 36.78 L32.75 32.75Z" fill="url(#rg51)" opacity="0.60" filter="url(#b2)"/><path d="M32.75 32.75 L31.89 36.78 L31.03 40.82 L30.18 44.85 L29.32 48.89 L28.46 52.92 L27.60 56.96 L26.75 60.99 L25.89 65.03 L25.89 65.03 L22.19 64.01 L18.63 62.58 L15.26 60.74 L15.26 60.74 L17.45 57.24 L19.63 53.74 L21.82 50.24 L24.01 46.74 L26.19 43.24 L28.38 39.75 L30.56 36.25 L32.75 32.75Z" fill="url(#rg52)" opacity="0.60" filter="url(#b2)"/><ellipse cx="32.75" cy="32.75" rx="14.00" ry="4.00" transform="rotate(0.0 32.75 32.75)" fill="#961826" opacity="0.70" filter="url(#b2_5)"/><circle cx="32.75" cy="32.75" r="7.00" fill="#961826" opacity="1.00" filter="url(#b1_5)"/><ellipse cx="27.00" cy="24.00" rx="5.30" ry="3.60" transform="rotate(-60.0 27.00 24.00)" fill="#f8f8f8" opacity="1.00" filter="url(#b1_1)"/><ellipse cx="27.00" cy="24.00" rx="3.20" ry="1.50" transform="rotate(-60.0 27.00 24.00)" fill="#2a6cb3" opacity="1.00" filter="url(#b0_5)"/><ellipse cx="37.50" cy="24.50" rx="5.30" ry="3.60" transform="rotate(60.0 37.50 24.50)" fill="#f8f8f8" opacity="1.00" filter="url(#b1_1)"/><ellipse cx="37.50" cy="24.50" rx="3.20" ry="1.50" transform="rotate(60.0 37.50 24.50)" fill="#2a6cb3" opacity="1.00" filter="url(#b0_5)"/><ellipse cx="27.50" cy="38.50" rx="5.30" ry="3.60" transform="rotate(60.0 27.50 38.50)" fill="#f8f8f8" opacity="1.00" filter="url(#b1_1)"/><ellipse cx="27.50" cy="38.50" rx="3.20" ry="1.50" transform="rotate(60.0 27.50 38.50)" fill="#2a6cb3" opacity="1.00" filter="url(#b0_5)"/><ellipse cx="38.00" cy="39.00" rx="5.30" ry="3.60" transform="rotate(-60.0 38.00 39.00)" fill="#f8f8f8" opacity="1.00" filter="url(#b1_1)"/><ellipse cx="38.00" cy="39.00" rx="3.20" ry="1.50" transform="rotate(-60.0 38.00 39.00)" fill="#2a6cb3" opacity="1.00" filter="url(#b0_5)"/></g><rect width="66" height="66" fill="#999" filter="url(#n15)" mask="url(#m53)"/></g><rect x="0.65" y="0.65" width="64.20" height="64.20" fill="none" stroke="#111" stroke-width="1.4"/></g><clipPath id="cp112"><rect x="0" y="0" width="65.50" height="65.50"/></clipPath><g transform="translate(542.00 134.00)"><g clip-path="url(#cp112)"><rect width="66" height="66" fill="#999" filter="url(#n16)"/><g clip-path="url(#dp112)"><circle cx="32.75" cy="32.75" r="28.50" fill="#f5f5f5"/><path d="M32.75 32.75 L28.77 32.33 L24.79 31.91 L20.82 31.50 L16.84 31.08 L12.86 30.66 L8.88 30.24 L4.90 29.82 L0.93 29.41 L0.93 29.41 L1.71 24.95 L3.12 20.66 L5.12 16.61 L7.67 12.87 L10.72 9.54 L14.21 6.67 L18.07 4.31 L22.23 2.53 L26.59 1.35 L31.08 0.79 L31.08 0.79 L31.28 4.79 L31.49 8.78 L31.70 12.78 L31.91 16.77 L32.12 20.77 L32.33 24.76 L32.54 28.76 L32.75 32.75Z" fill="url(#rg55)" opacity="1.00" filter="url(#b1_8)"/><path d="M32.75 32.75 L33.03 28.76 L33.31 24.77 L33.59 20.78 L33.87 16.79 L34.15 12.80 L34.42 8.81 L34.70 4.82 L34.98 0.83 L34.98 0.83 L39.40 1.45 L43.69 2.68 L47.77 4.50 L51.56 6.86 L54.98 9.73 L57.97 13.05 L60.46 16.75 L62.42 20.76 L63.80 25.01 L63.80 25.01 L59.92 25.98 L56.04 26.94 L52.16 27.91 L48.27 28.88 L44.39 29.85 L40.51 30.81 L36.63 31.78 L32.75 32.75Z" fill="url(#rg56)" opacity="1.00" filter="url(#b1_8)"/><path d="M32.75 32.75 L36.69 33.44 L40.63 34.14 L44.57 34.83 L48.51 35.53 L52.45 36.22 L56.39 36.92 L60.32 37.61 L64.26 38.31 L64.26 38.31 L63.07 42.99 L61.18 47.44 L58.64 51.56 L55.51 55.25 L51.86 58.42 L47.77 61.00 L43.34 62.95 L38.67 64.20 L33.87 64.73 L33.87 64.73 L33.73 60.73 L33.59 56.74 L33.45 52.74 L33.31 48.74 L33.17 44.74 L33.03 40.75 L32.89 36.75 L32.75 32.75Z" fill="url(#rg57)" opacity="1.00" filter="url(#b1_8)"/><path d="M32.75 32.75 L32.47 36.74 L32.19 40.73 L31.91 44.72 L31.63 48.71 L31.35 52.70 L31.08 56.69 L30.80 60.68 L30.52 64.67 L30.52 64.67 L25.98 64.02 L21.57 62.73 L17.40 60.83 L13.54 58.34 L10.08 55.33 L7.08 51.86 L4.61 47.99 L2.72 43.81 L1.45 39.40 L1.45 39.40 L5.36 38.57 L9.27 37.74 L13.19 36.91 L17.10 36.08 L21.01 35.24 L24.92 34.41 L28.84 33.58 L32.75 32.75Z" fill="url(#rg58)" opacity="1.00" filter="url(#b1_8)"/><ellipse cx="32.75" cy="32.75" rx="4.50" ry="10.50" transform="rotate(0.0 32.75 32.75)" fill="#f7f7f7" opacity="1.00" filter="url(#b1_2)"/><circle cx="32.00" cy="24.50" r="1.80" fill="#2a6cb3" opacity="1.00" filter="url(#b0_6)"/><circle cx="33.00" cy="39.00" r="1.80" fill="#2a6cb3" opacity="1.00" filter="url(#b0_6)"/><circle cx="31.50" cy="31.50" r="1.40" fill="#2a6cb3" opacity="1.00" filter="url(#b0_6)"/></g><rect width="66" height="66" fill="#999" filter="url(#n16)" mask="url(#m59)"/></g><rect x="0.65" y="0.65" width="64.20" height="64.20" fill="none" stroke="#111" stroke-width="1.4"/></g><clipPath id="cp113"><rect x="0" y="0" width="65.50" height="65.50"/></clipPath><g transform="translate(616.00 134.00)"><g clip-path="url(#cp113)"><rect width="66" height="66" fill="#999" filter="url(#n17)"/><g clip-path="url(#dp113)"><circle cx="32.75" cy="32.75" r="28.50" fill="#edf3f8"/><ellipse cx="24.00" cy="18.00" rx="4.50" ry="9.00" transform="rotate(-25.0 24.00 18.00)" fill="#8cbade" opacity="0.55" filter="url(#b2_4)"/><ellipse cx="38.00" cy="48.00" rx="4.50" ry="9.00" transform="rotate(-25.0 38.00 48.00)" fill="#8cbade" opacity="0.55" filter="url(#b2_4)"/><ellipse cx="33.00" cy="33.00" rx="9.00" ry="10.50" transform="rotate(-30.0 33.00 33.00)" fill="#fafafa" opacity="1.00" filter="url(#b1)"/><ellipse cx="33.00" cy="33.00" rx="9.00" ry="11.00" transform="rotate(-30.0 33.00 33.00)" fill="none" stroke="#c0303a" stroke-width="3.00" opacity="1.00" filter="url(#b0_8)"/><ellipse cx="36.00" cy="28.00" rx="2.80" ry="3.20" transform="rotate(0.0 36.00 28.00)" fill="#2a6cb3" opacity="1.00" filter="url(#b0_8)"/><ellipse cx="29.50" cy="37.00" rx="2.80" ry="3.20" transform="rotate(0.0 29.50 37.00)" fill="#2a6cb3" opacity="1.00" filter="url(#b0_8)"/></g><rect width="66" height="66" fill="#999" filter="url(#n17)" mask="url(#m61)"/></g><rect x="0.65" y="0.65" width="64.20" height="64.20" fill="none" stroke="#111" stroke-width="1.4"/></g><clipPath id="cp120"><rect x="0" y="0" width="65.50" height="65.50"/></clipPath><g transform="translate(395.00 222.00)"><g clip-path="url(#cp120)"><rect width="66" height="66" fill="#24397c"/><circle cx="32.75" cy="32.75" r="27.50" fill="url(#rg63)"/><circle cx="32.50" cy="31.50" r="11.00" fill="none" stroke="#5aa8e0" stroke-width="3.20" opacity="0.90" filter="url(#b1_2)"/><circle cx="32.50" cy="31.50" r="17.00" fill="none" stroke="#3a8ad0" stroke-width="2.50" opacity="0.60" filter="url(#b1_5)"/><circle cx="32.50" cy="31.50" r="22.00" fill="none" stroke="#2f7ac4" stroke-width="2.00" opacity="0.50" filter="url(#b1_5)"/><circle cx="32.50" cy="31.50" r="7.00" fill="#3488d0" opacity="0.80" filter="url(#b1_5)"/><circle cx="32.50" cy="31.50" r="4.20" fill="none" stroke="#d8ecfa" stroke-width="2.20" opacity="1.00" filter="url(#b0_8)"/><path d="M36.45 32.94 L36.27 33.35 L36.06 33.74 L35.80 34.10 L35.50 34.44 L35.18 34.74 L34.82 35.00 L34.43 35.23 L34.03 35.41 L33.60 35.55 L33.17 35.65 L32.72 35.69 L32.28 35.69 L31.83 35.65 L31.40 35.55 L30.97 35.41 L30.57 35.23 L30.18 35.00 L29.82 34.74 L29.50 34.44 L29.20 34.10 L28.94 33.74 L28.73 33.35 L28.55 32.94" fill="none" stroke="#ffffff" stroke-width="2.20" stroke-linecap="round" opacity="1.00" filter="url(#b0_7)"/><circle cx="32.50" cy="31.50" r="2.00" fill="#2a70bd" opacity="1.00" filter="url(#b0_7)"/><circle cx="32.6" cy="32.8" r="29.6" fill="none" stroke="#d4e0f2" stroke-width="0.95" stroke-dasharray="2.6 2.5"/><text x="32.60" y="58.3" font-size="11.4" letter-spacing="0.1" text-anchor="middle" fill="#f4f6fa" stroke="#f4f6fa" stroke-width="0.25" font-family="Liberation Sans, sans-serif">cir. right</text></g><rect x="0.65" y="0.65" width="64.20" height="64.20" fill="none" stroke="#111" stroke-width="1.4"/></g><clipPath id="cp121"><rect x="0" y="0" width="65.50" height="65.50"/></clipPath><g transform="translate(468.00 222.00)"><g clip-path="url(#cp121)"><rect width="66" height="66" fill="#999" filter="url(#n18)"/><g clip-path="url(#dp121)"><circle cx="32.75" cy="32.75" r="28.50" fill="#f5f5f5"/><path d="M32.75 32.75 L30.07 29.78 L27.40 26.80 L24.72 23.83 L22.04 20.86 L19.37 17.89 L16.69 14.91 L14.01 11.94 L11.34 8.97 L11.34 8.97 L14.95 6.16 L18.92 3.89 L23.18 2.21 L27.63 1.16 L32.19 0.75 L36.76 1.00 L41.25 1.90 L45.56 3.43 L49.61 5.55 L53.32 8.24 L53.32 8.24 L50.75 11.30 L48.18 14.36 L45.61 17.43 L43.03 20.49 L40.46 23.56 L37.89 26.62 L35.32 29.69 L32.75 32.75Z" fill="url(#rg64)" opacity="1.00" filter="url(#b1_8)"/><path d="M32.75 32.75 L35.32 35.81 L37.89 38.88 L40.46 41.94 L43.03 45.01 L45.61 48.07 L48.18 51.14 L50.75 54.20 L53.32 57.26 L53.32 57.26 L49.71 59.89 L45.77 61.98 L41.57 63.51 L37.20 64.44 L32.75 64.75 L28.30 64.44 L23.93 63.51 L19.73 61.98 L15.79 59.89 L12.18 57.26 L12.18 57.26 L14.75 54.20 L17.32 51.14 L19.89 48.07 L22.47 45.01 L25.04 41.94 L27.61 38.88 L30.18 35.81 L32.75 32.75Z" fill="url(#rg65)" opacity="1.00" filter="url(#b1_8)"/><path d="M32.75 32.75 L29.29 34.75 L25.82 36.75 L22.36 38.75 L18.89 40.75 L15.43 42.75 L11.97 44.75 L8.50 46.75 L5.04 48.75 L5.04 48.75 L2.96 44.44 L1.55 39.87 L0.84 35.14 L0.84 30.36 L1.55 25.63 L2.96 21.06 L5.04 16.75 L5.04 16.75 L8.50 18.75 L11.97 20.75 L15.43 22.75 L18.89 24.75 L22.36 26.75 L25.82 28.75 L29.29 30.75 L32.75 32.75Z" fill="url(#rg66)" opacity="1.00" filter="url(#b1_8)"/><path d="M32.75 32.75 L36.21 30.75 L39.68 28.75 L43.14 26.75 L46.61 24.75 L50.07 22.75 L53.53 20.75 L57.00 18.75 L60.46 16.75 L60.46 16.75 L62.54 21.06 L63.95 25.63 L64.66 30.36 L64.66 35.14 L63.95 39.87 L62.54 44.44 L60.46 48.75 L60.46 48.75 L57.00 46.75 L53.53 44.75 L50.07 42.75 L46.61 40.75 L43.14 38.75 L39.68 36.75 L36.21 34.75 L32.75 32.75Z" fill="url(#rg67)" opacity="1.00" filter="url(#b1_8)"/><circle cx="32.75" cy="32.75" r="7.50" fill="#f5f5f5" opacity="0.60" filter="url(#b1_2)"/><circle cx="32.75" cy="32.75" r="6.50" fill="none" stroke="#f7f7f7" stroke-width="1.60" opacity="1.00" filter="url(#b0_6)"/><path d="M36.04 30.85 L36.22 31.20 L36.36 31.58 L36.47 31.96 L36.53 32.35 L36.55 32.75 L36.53 33.15 L36.47 33.54 L36.36 33.92 L36.22 34.30 L36.04 34.65 L35.82 34.98 L35.57 35.29 L35.29 35.57 L34.98 35.82 L34.65 36.04" fill="none" stroke="#c0303a" stroke-width="2.60" stroke-linecap="round" opacity="1.00" filter="url(#b0_5)"/><path d="M29.46 34.65 L29.28 34.30 L29.14 33.92 L29.03 33.54 L28.97 33.15 L28.95 32.75 L28.97 32.35 L29.03 31.96 L29.14 31.58 L29.28 31.20 L29.46 30.85 L29.68 30.52 L29.93 30.21 L30.21 29.93 L30.52 29.68 L30.85 29.46" fill="none" stroke="#c0303a" stroke-width="2.60" stroke-linecap="round" opacity="1.00" filter="url(#b0_5)"/><path d="M34.65 36.04 L34.30 36.22 L33.92 36.36 L33.54 36.47 L33.15 36.53 L32.75 36.55 L32.35 36.53 L31.96 36.47 L31.58 36.36 L31.20 36.22 L30.85 36.04 L30.52 35.82 L30.21 35.57 L29.93 35.29 L29.68 34.98 L29.46 34.65" fill="none" stroke="#2a6cb3" stroke-width="2.60" stroke-linecap="round" opacity="1.00" filter="url(#b0_5)"/><path d="M30.85 29.46 L31.20 29.28 L31.58 29.14 L31.96 29.03 L32.35 28.97 L32.75 28.95 L33.15 28.97 L33.54 29.03 L33.92 29.14 L34.30 29.28 L34.65 29.46 L34.98 29.68 L35.29 29.93 L35.57 30.21 L35.82 30.52 L36.04 30.85" fill="none" stroke="#2a6cb3" stroke-width="2.60" stroke-linecap="round" opacity="1.00" filter="url(#b0_5)"/></g><rect width="66" height="66" fill="#999" filter="url(#n18)" mask="url(#m68)"/></g><rect x="0.65" y="0.65" width="64.20" height="64.20" fill="none" stroke="#111" stroke-width="1.4"/></g><clipPath id="cp122"><rect x="0" y="0" width="65.50" height="65.50"/></clipPath><g transform="translate(542.00 222.00)"><g clip-path="url(#cp122)"><rect width="66" height="66" fill="#999" filter="url(#n19)"/><g clip-path="url(#dp122)"><circle cx="32.75" cy="32.75" r="28.50" fill="#f5f5f5"/><path d="M32.75 32.75 L28.79 32.19 L24.83 31.64 L20.87 31.08 L16.91 30.52 L12.94 29.97 L8.98 29.41 L5.02 28.85 L1.06 28.30 L1.06 28.30 L2.02 23.81 L3.62 19.51 L5.81 15.48 L8.56 11.80 L11.80 8.56 L15.48 5.81 L19.51 3.62 L23.81 2.02 L28.30 1.06 L28.30 1.06 L28.85 5.02 L29.41 8.98 L29.97 12.94 L30.52 16.91 L31.08 20.87 L31.64 24.83 L32.19 28.79 L32.75 32.75Z" fill="url(#rg70)" opacity="1.00" filter="url(#b1_8)"/><path d="M32.75 32.75 L33.31 28.79 L33.86 24.83 L34.42 20.87 L34.98 16.91 L35.53 12.94 L36.09 8.98 L36.65 5.02 L37.20 1.06 L37.20 1.06 L41.69 2.02 L45.99 3.62 L50.02 5.81 L53.70 8.56 L56.94 11.80 L59.69 15.48 L61.88 19.51 L63.48 23.81 L64.44 28.30 L64.44 28.30 L60.48 28.85 L56.52 29.41 L52.56 29.97 L48.59 30.52 L44.63 31.08 L40.67 31.64 L36.71 32.19 L32.75 32.75Z" fill="url(#rg71)" opacity="1.00" filter="url(#b1_8)"/><path d="M32.75 32.75 L32.19 36.71 L31.64 40.67 L31.08 44.63 L30.52 48.59 L29.97 52.56 L29.41 56.52 L28.85 60.48 L28.30 64.44 L28.30 64.44 L23.81 63.48 L19.51 61.88 L15.48 59.69 L11.80 56.94 L8.56 53.70 L5.81 50.02 L3.62 45.99 L2.02 41.69 L1.06 37.20 L1.06 37.20 L5.02 36.65 L8.98 36.09 L12.94 35.53 L16.91 34.98 L20.87 34.42 L24.83 33.86 L28.79 33.31 L32.75 32.75Z" fill="url(#rg72)" opacity="1.00" filter="url(#b1_8)"/><path d="M32.75 32.75 L36.71 33.31 L40.67 33.86 L44.63 34.42 L48.59 34.98 L52.56 35.53 L56.52 36.09 L60.48 36.65 L64.44 37.20 L64.44 37.20 L63.48 41.69 L61.88 45.99 L59.69 50.02 L56.94 53.70 L53.70 56.94 L50.02 59.69 L45.99 61.88 L41.69 63.48 L37.20 64.44 L37.20 64.44 L36.65 60.48 L36.09 56.52 L35.53 52.56 L34.98 48.59 L34.42 44.63 L33.86 40.67 L33.31 36.71 L32.75 32.75Z" fill="url(#rg73)" opacity="1.00" filter="url(#b1_8)"/><circle cx="32.75" cy="32.75" r="7.50" fill="#f5f5f5" opacity="0.60" filter="url(#b1_2)"/><circle cx="32.75" cy="32.75" r="6.50" fill="none" stroke="#f7f7f7" stroke-width="1.60" opacity="1.00" filter="url(#b0_6)"/><path d="M34.65 29.46 L34.98 29.68 L35.29 29.93 L35.57 30.21 L35.82 30.52 L36.04 30.85 L36.22 31.20 L36.36 31.58 L36.47 31.96 L36.53 32.35 L36.55 32.75 L36.53 33.15 L36.47 33.54 L36.36 33.92 L36.22 34.30 L36.04 34.65" fill="none" stroke="#c0303a" stroke-width="2.60" stroke-linecap="round" opacity="1.00" filter="url(#b0_5)"/><path d="M30.85 36.04 L30.52 35.82 L30.21 35.57 L29.93 35.29 L29.68 34.98 L29.46 34.65 L29.28 34.30 L29.14 33.92 L29.03 33.54 L28.97 33.15 L28.95 32.75 L28.97 32.35 L29.03 31.96 L29.14 31.58 L29.28 31.20 L29.46 30.85" fill="none" stroke="#c0303a" stroke-width="2.60" stroke-linecap="round" opacity="1.00" filter="url(#b0_5)"/><path d="M36.04 34.65 L35.82 34.98 L35.57 35.29 L35.29 35.57 L34.98 35.82 L34.65 36.04 L34.30 36.22 L33.92 36.36 L33.54 36.47 L33.15 36.53 L32.75 36.55 L32.35 36.53 L31.96 36.47 L31.58 36.36 L31.20 36.22 L30.85 36.04" fill="none" stroke="#2a6cb3" stroke-width="2.60" stroke-linecap="round" opacity="1.00" filter="url(#b0_5)"/><path d="M29.46 30.85 L29.68 30.52 L29.93 30.21 L30.21 29.93 L30.52 29.68 L30.85 29.46 L31.20 29.28 L31.58 29.14 L31.96 29.03 L32.35 28.97 L32.75 28.95 L33.15 28.97 L33.54 29.03 L33.92 29.14 L34.30 29.28 L34.65 29.46" fill="none" stroke="#2a6cb3" stroke-width="2.60" stroke-linecap="round" opacity="1.00" filter="url(#b0_5)"/></g><rect width="66" height="66" fill="#999" filter="url(#n19)" mask="url(#m74)"/></g><rect x="0.65" y="0.65" width="64.20" height="64.20" fill="none" stroke="#111" stroke-width="1.4"/></g><clipPath id="cp123"><rect x="0" y="0" width="65.50" height="65.50"/></clipPath><g transform="translate(616.00 222.00)"><g clip-path="url(#cp123)"><rect width="66" height="66" fill="#999" filter="url(#n20)"/><g clip-path="url(#dp123)"><circle cx="32.75" cy="32.75" r="29.50" fill="#bc262e"/><circle cx="32.75" cy="32.75" r="20.00" fill="none" stroke="#cc4444" stroke-width="4.00" opacity="0.60" filter="url(#b2_2)"/><circle cx="32.30" cy="33.00" r="13.50" fill="#f6b8a0" opacity="1.00" filter="url(#b1_6)"/><circle cx="32.30" cy="33.00" r="12.00" fill="#fff4ee" opacity="1.00" filter="url(#b1_2)"/><circle cx="32.30" cy="33.00" r="8.60" fill="none" stroke="#1f68ab" stroke-width="3.00" opacity="1.00" filter="url(#b0_6)"/><circle cx="32.30" cy="33.00" r="5.60" fill="#b8202a" opacity="1.00" filter="url(#b0_6)"/></g><rect width="66" height="66" fill="#999" filter="url(#n20)" mask="url(#m76)"/></g><rect x="0.65" y="0.65" width="64.20" height="64.20" fill="none" stroke="#111" stroke-width="1.4"/></g><clipPath id="cp130"><rect x="0" y="0" width="65.50" height="65.50"/></clipPath><g transform="translate(395.00 310.00)"><g clip-path="url(#cp130)"><rect width="66" height="66" fill="#24397c"/><circle cx="32.75" cy="32.75" r="27.50" fill="url(#rg78)"/><circle cx="32.50" cy="32.00" r="11.00" fill="none" stroke="#4a9ad8" stroke-width="3.50" opacity="0.90" filter="url(#b1_2)"/><path d="M21.67 30.09 L21.93 28.97 L22.30 27.88 L22.79 26.84 L23.38 25.85 L24.07 24.93 L24.86 24.09 L25.73 23.33 L26.67 22.67 L27.68 22.11 L28.74 21.66 L29.84 21.33 L30.97 21.11 L32.12 21.01 L33.27 21.03 L34.41 21.17" fill="none" stroke="#7ab8e8" stroke-width="2.50" stroke-linecap="round" opacity="0.80" filter="url(#b1_2)"/><circle cx="32.50" cy="32.00" r="17.00" fill="none" stroke="#3a8ad0" stroke-width="2.50" opacity="0.55" filter="url(#b1_5)"/><circle cx="32.50" cy="32.00" r="22.00" fill="none" stroke="#2f7ac4" stroke-width="2.00" opacity="0.45" filter="url(#b1_5)"/><circle cx="32.50" cy="32.00" r="7.00" fill="#3080cc" opacity="0.80" filter="url(#b1_5)"/><circle cx="32.50" cy="32.00" r="4.50" fill="none" stroke="#c0e0f6" stroke-width="2.40" opacity="1.00" filter="url(#b0_8)"/><circle cx="32.50" cy="32.00" r="2.20" fill="#1a5aa8" opacity="1.00" filter="url(#b0_7)"/><circle cx="32.6" cy="32.8" r="29.6" fill="none" stroke="#d4e0f2" stroke-width="0.95" stroke-dasharray="2.6 2.5"/><text x="32.60" y="58.3" font-size="11.4" letter-spacing="0.1" text-anchor="middle" fill="#f4f6fa" stroke="#f4f6fa" stroke-width="0.25" font-family="Liberation Sans, sans-serif">cir. left</text></g><rect x="0.65" y="0.65" width="64.20" height="64.20" fill="none" stroke="#111" stroke-width="1.4"/></g><clipPath id="cp131"><rect x="0" y="0" width="65.50" height="65.50"/></clipPath><g transform="translate(468.00 310.00)"><g clip-path="url(#cp131)"><rect width="66" height="66" fill="#999" filter="url(#n21)"/><g clip-path="url(#dp131)"><circle cx="32.75" cy="32.75" r="28.50" fill="#f5f5f5"/><path d="M32.75 32.75 L30.07 29.78 L27.40 26.80 L24.72 23.83 L22.04 20.86 L19.37 17.89 L16.69 14.91 L14.01 11.94 L11.34 8.97 L11.34 8.97 L14.95 6.16 L18.92 3.89 L23.18 2.21 L27.63 1.16 L32.19 0.75 L36.76 1.00 L41.25 1.90 L45.56 3.43 L49.61 5.55 L53.32 8.24 L53.32 8.24 L50.75 11.30 L48.18 14.36 L45.61 17.43 L43.03 20.49 L40.46 23.56 L37.89 26.62 L35.32 29.69 L32.75 32.75Z" fill="url(#rg79)" opacity="1.00" filter="url(#b1_8)"/><path d="M32.75 32.75 L35.32 35.81 L37.89 38.88 L40.46 41.94 L43.03 45.01 L45.61 48.07 L48.18 51.14 L50.75 54.20 L53.32 57.26 L53.32 57.26 L49.71 59.89 L45.77 61.98 L41.57 63.51 L37.20 64.44 L32.75 64.75 L28.30 64.44 L23.93 63.51 L19.73 61.98 L15.79 59.89 L12.18 57.26 L12.18 57.26 L14.75 54.20 L17.32 51.14 L19.89 48.07 L22.47 45.01 L25.04 41.94 L27.61 38.88 L30.18 35.81 L32.75 32.75Z" fill="url(#rg80)" opacity="1.00" filter="url(#b1_8)"/><path d="M32.75 32.75 L29.15 34.50 L25.56 36.26 L21.96 38.01 L18.37 39.76 L14.77 41.52 L11.18 43.27 L7.58 45.02 L3.99 46.78 L3.99 46.78 L2.20 42.28 L1.12 37.57 L0.75 32.75 L1.12 27.93 L2.20 23.22 L3.99 18.72 L3.99 18.72 L7.58 20.48 L11.18 22.23 L14.77 23.98 L18.37 25.74 L21.96 27.49 L25.56 29.24 L29.15 31.00 L32.75 32.75Z" fill="url(#rg81)" opacity="1.00" filter="url(#b1_6)"/><path d="M32.75 32.75 L36.35 31.00 L39.94 29.24 L43.54 27.49 L47.13 25.74 L50.73 23.98 L54.32 22.23 L57.92 20.48 L61.51 18.72 L61.51 18.72 L63.18 22.86 L64.26 27.19 L64.73 31.63 L64.57 36.09 L63.80 40.49 L62.42 44.74 L62.42 44.74 L58.71 43.24 L55.00 41.74 L51.29 40.24 L47.58 38.74 L43.88 37.25 L40.17 35.75 L36.46 34.25 L32.75 32.75Z" fill="url(#rg82)" opacity="1.00" filter="url(#b1_6)"/><path d="M25.02 30.68 L25.32 29.80 L25.71 28.95 L26.20 28.16 L26.77 27.43 L27.43 26.77 L28.16 26.20" fill="none" stroke="#c0303a" stroke-width="3.00" stroke-linecap="round" opacity="1.00" filter="url(#b0_8)"/><path d="M40.48 34.82 L40.18 35.70 L39.79 36.55 L39.30 37.34 L38.73 38.07 L38.07 38.73 L37.34 39.30" fill="none" stroke="#c0303a" stroke-width="3.00" stroke-linecap="round" opacity="1.00" filter="url(#b0_8)"/><circle cx="32.75" cy="32.75" r="6.00" fill="#f5f5f5" opacity="0.60" filter="url(#b1_2)"/><circle cx="32.75" cy="32.75" r="5.50" fill="none" stroke="#f7f7f7" stroke-width="1.60" opacity="1.00" filter="url(#b0_6)"/><path d="M33.27 29.80 L33.58 29.87 L33.87 29.97 L34.16 30.10 L34.43 30.26 L34.68 30.45 L34.91 30.67 L35.11 30.90 L35.29 31.16 L35.45 31.43 L35.57 31.72 L35.66 32.02 L35.72 32.33 L35.75 32.65 L35.74 32.96 L35.70 33.27" fill="none" stroke="#2a6cb3" stroke-width="2.40" stroke-linecap="round" opacity="1.00" filter="url(#b0_5)"/><path d="M32.23 35.70 L31.92 35.63 L31.63 35.53 L31.34 35.40 L31.07 35.24 L30.82 35.05 L30.59 34.83 L30.39 34.60 L30.21 34.34 L30.05 34.07 L29.93 33.78 L29.84 33.48 L29.78 33.17 L29.75 32.85 L29.76 32.54 L29.80 32.23" fill="none" stroke="#2a6cb3" stroke-width="2.40" stroke-linecap="round" opacity="1.00" filter="url(#b0_5)"/></g><rect width="66" height="66" fill="#999" filter="url(#n21)" mask="url(#m83)"/></g><rect x="0.65" y="0.65" width="64.20" height="64.20" fill="none" stroke="#111" stroke-width="1.4"/></g><clipPath id="cp132"><rect x="0" y="0" width="65.50" height="65.50"/></clipPath><g transform="translate(542.00 310.00)"><g clip-path="url(#cp132)"><rect width="66" height="66" fill="#999" filter="url(#n22)"/><g clip-path="url(#dp132)"><circle cx="32.75" cy="32.75" r="28.50" fill="#f5f5f5"/><path d="M32.75 32.75 L28.75 32.61 L24.75 32.47 L20.76 32.33 L16.76 32.19 L12.76 32.05 L8.76 31.91 L4.77 31.77 L0.77 31.63 L0.77 31.63 L1.24 27.19 L2.32 22.86 L3.99 18.72 L6.22 14.86 L8.97 11.34 L12.18 8.24 L15.79 5.61 L19.73 3.52 L23.93 1.99 L28.30 1.06 L32.75 0.75 L32.75 0.75 L32.75 4.75 L32.75 8.75 L32.75 12.75 L32.75 16.75 L32.75 20.75 L32.75 24.75 L32.75 28.75 L32.75 32.75Z" fill="url(#rg85)" opacity="1.00" filter="url(#b1_8)"/><path d="M32.75 32.75 L33.72 28.87 L34.69 24.99 L35.65 21.11 L36.62 17.23 L37.59 13.34 L38.56 9.46 L39.52 5.58 L40.49 1.70 L40.49 1.70 L45.36 3.34 L49.90 5.73 L54.00 8.82 L57.55 12.53 L60.46 16.75 L60.46 16.75 L57.00 18.75 L53.53 20.75 L50.07 22.75 L46.61 24.75 L43.14 26.75 L39.68 28.75 L36.21 30.75 L32.75 32.75Z" fill="url(#rg86)" opacity="1.00" filter="url(#b1_6)"/><path d="M32.75 32.75 L36.75 32.75 L40.75 32.75 L44.75 32.75 L48.75 32.75 L52.75 32.75 L56.75 32.75 L60.75 32.75 L64.75 32.75 L64.75 32.75 L64.41 37.40 L63.40 41.96 L61.73 46.32 L59.45 50.39 L56.60 54.09 L53.24 57.33 L49.45 60.05 L45.30 62.19 L40.88 63.70 L36.30 64.55 L31.63 64.73 L31.63 64.73 L31.77 60.73 L31.91 56.74 L32.05 52.74 L32.19 48.74 L32.33 44.74 L32.47 40.75 L32.61 36.75 L32.75 32.75Z" fill="url(#rg87)" opacity="1.00" filter="url(#b1_8)"/><path d="M32.75 32.75 L31.65 36.60 L30.54 40.44 L29.44 44.29 L28.34 48.13 L27.24 51.98 L26.13 55.82 L25.03 59.67 L23.93 63.51 L23.93 63.51 L19.56 61.91 L15.48 59.69 L11.76 56.90 L8.48 53.60 L5.71 49.87 L3.52 45.77 L3.52 45.77 L7.17 44.14 L10.82 42.51 L14.48 40.88 L18.13 39.26 L21.79 37.63 L25.44 36.00 L29.10 34.38 L32.75 32.75Z" fill="url(#rg88)" opacity="1.00" filter="url(#b1_6)"/><circle cx="32.75" cy="32.75" r="6.50" fill="#f5f5f5" opacity="0.60" filter="url(#b1_2)"/><circle cx="32.75" cy="32.75" r="6.50" fill="none" stroke="#f7f7f7" stroke-width="1.80" opacity="1.00" filter="url(#b0_6)"/><circle cx="32.75" cy="32.75" r="3.80" fill="#2a6cb3" opacity="1.00" filter="url(#b0_6)"/><circle cx="25.30" cy="33.00" r="2.00" fill="#c0303a" opacity="1.00" filter="url(#b0_5)"/><circle cx="39.30" cy="32.00" r="2.00" fill="#c0303a" opacity="1.00" filter="url(#b0_5)"/></g><rect width="66" height="66" fill="#999" filter="url(#n22)" mask="url(#m89)"/></g><rect x="0.65" y="0.65" width="64.20" height="64.20" fill="none" stroke="#111" stroke-width="1.4"/></g><clipPath id="cp133"><rect x="0" y="0" width="65.50" height="65.50"/></clipPath><g transform="translate(616.00 310.00)"><g clip-path="url(#cp133)"><rect width="66" height="66" fill="#999" filter="url(#n23)"/><g clip-path="url(#dp133)"><circle cx="32.75" cy="32.75" r="29.50" fill="#2866ae"/><circle cx="32.75" cy="32.75" r="17.00" fill="none" stroke="#5294ce" stroke-width="3.00" opacity="0.70" filter="url(#b2)"/><circle cx="33.00" cy="33.00" r="12.50" fill="#b8d6ee" opacity="1.00" filter="url(#b1_6)"/><circle cx="33.00" cy="33.00" r="11.50" fill="#f4f8fb" opacity="1.00" filter="url(#b1_2)"/><ellipse cx="33.00" cy="33.00" rx="9.50" ry="8.00" transform="rotate(0.0 33.00 33.00)" fill="none" stroke="#b41e2e" stroke-width="2.80" opacity="1.00" filter="url(#b0_6)"/><circle cx="33.00" cy="33.00" r="6.00" fill="#2a68b0" opacity="1.00" filter="url(#b0_6)"/></g><rect width="66" height="66" fill="#999" filter="url(#n23)" mask="url(#m91)"/></g><rect x="0.65" y="0.65" width="64.20" height="64.20" fill="none" stroke="#111" stroke-width="1.4"/></g></svg></body></html>
